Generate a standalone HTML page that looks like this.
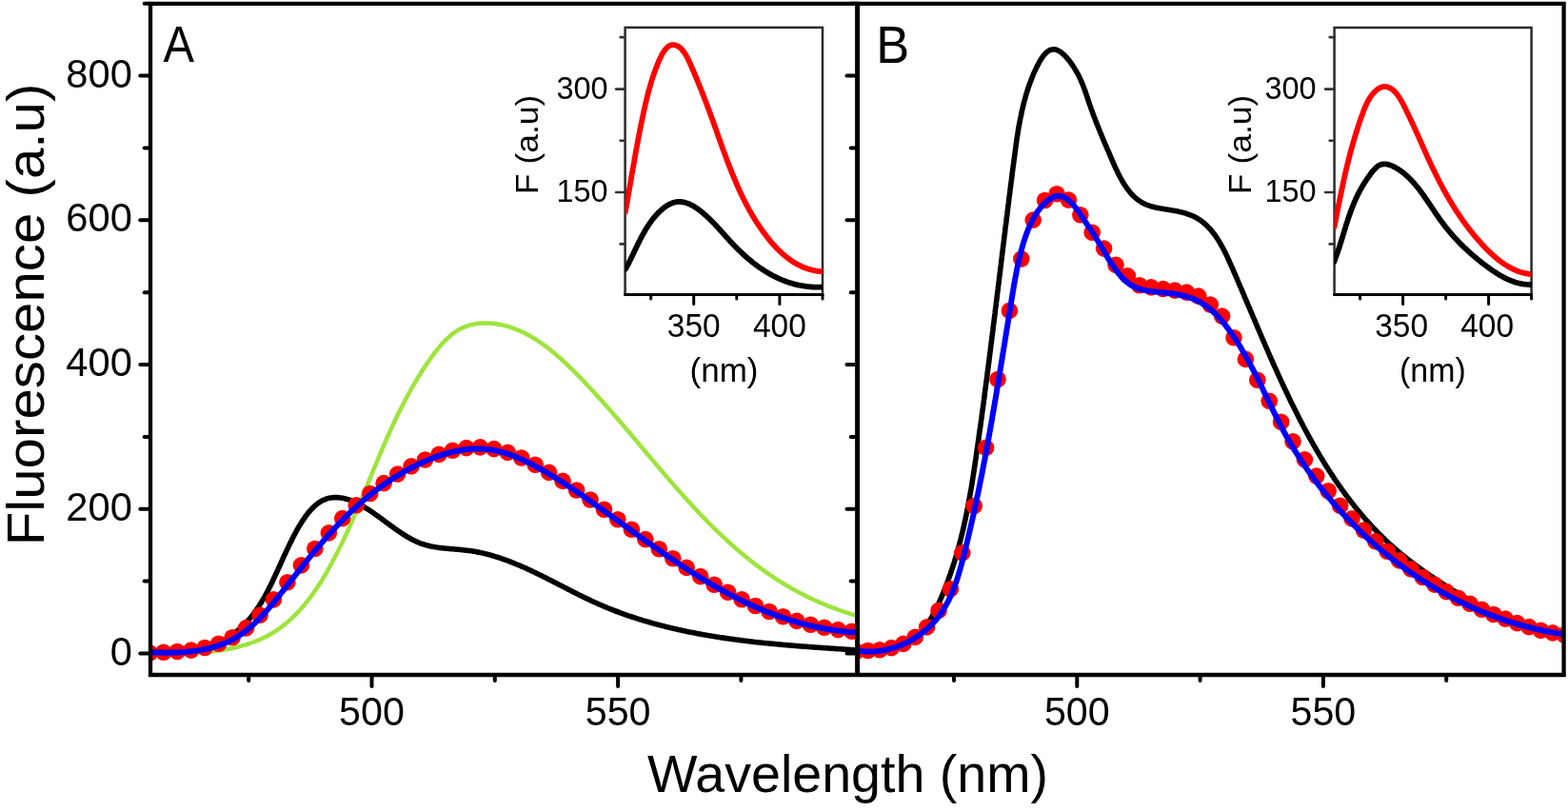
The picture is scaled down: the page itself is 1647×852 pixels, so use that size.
<!DOCTYPE html><html><head><meta charset="utf-8"><title>Fluorescence spectra</title><style>html,body{margin:0;padding:0;background:#fff;overflow:hidden}svg{display:block}</style></head><body>
<svg width="1647" height="852" viewBox="0 0 1647 852">
<defs><clipPath id="ca"><rect x="158.0" y="3.9" width="742.6" height="705.1"/></clipPath>
<clipPath id="cb"><rect x="900.6" y="3.9" width="742.0" height="705.1"/></clipPath></defs>
<g clip-path="url(#ca)" fill="none" stroke-linejoin="round" stroke-linecap="round">
<path d="M157.5 686.5 L159.0 686.2 L160.4 686.3 L161.8 686.4 L163.3 686.5 L164.7 686.5 L166.2 686.6 L167.6 686.7 L169.1 686.7 L170.6 686.8 L172.0 686.8 L173.5 686.8 L175.0 686.8 L176.5 686.8 L178.0 686.8 L179.5 686.8 L181.0 686.7 L182.5 686.7 L184.0 686.6 L185.6 686.5 L187.1 686.4 L188.6 686.3 L190.1 686.2 L191.6 686.0 L193.1 685.9 L194.7 685.7 L196.2 685.5 L197.7 685.3 L199.2 685.1 L200.7 684.8 L202.2 684.5 L203.7 684.3 L205.2 683.9 L206.7 683.6 L208.2 683.3 L209.7 682.9 L211.2 682.5 L212.7 682.1 L214.1 681.7 L215.6 681.2 L217.1 680.7 L218.5 680.2 L219.9 679.7 L221.4 679.2 L222.8 678.6 L224.2 678.0 L225.6 677.4 L227.0 676.7 L228.4 676.1 L229.8 675.4 L231.1 674.7 L232.5 674.0 L233.8 673.3 L235.1 672.5 L236.4 671.8 L237.7 671.0 L239.0 670.2 L240.3 669.4 L241.6 668.5 L242.8 667.7 L244.0 666.8 L245.2 666.0 L246.4 665.1 L247.6 664.1 L248.7 663.2 L249.9 662.3 L251.0 661.3 L252.1 660.4 L253.2 659.4 L254.2 658.4 L255.3 657.4 L256.3 656.4 L257.3 655.4 L258.3 654.3 L259.3 653.3 L260.3 652.2 L261.2 651.2 L262.2 650.1 L263.1 649.0 L264.0 647.9 L264.9 646.8 L265.8 645.6 L266.6 644.5 L267.5 643.3 L268.3 642.2 L269.1 641.0 L270.0 639.8 L270.8 638.7 L271.6 637.5 L272.3 636.3 L273.1 635.0 L273.9 633.8 L274.6 632.6 L275.4 631.3 L276.1 630.1 L276.8 628.8 L277.6 627.6 L278.3 626.3 L279.0 625.0 L279.7 623.7 L280.4 622.4 L281.1 621.1 L281.7 619.8 L282.4 618.5 L283.1 617.2 L283.7 615.9 L284.4 614.5 L285.1 613.2 L285.7 611.8 L286.4 610.5 L287.0 609.1 L287.6 607.7 L288.3 606.4 L288.9 605.0 L289.6 603.6 L290.2 602.2 L290.8 600.8 L291.5 599.5 L292.1 598.1 L292.7 596.7 L293.4 595.2 L294.0 593.8 L294.6 592.4 L295.3 591.0 L295.9 589.6 L296.6 588.2 L297.2 586.7 L297.9 585.3 L298.5 583.9 L299.2 582.4 L299.9 581.0 L300.5 579.6 L301.2 578.1 L301.9 576.7 L302.6 575.3 L303.2 573.8 L303.9 572.4 L304.6 570.9 L305.4 569.5 L306.1 568.0 L306.8 566.6 L307.5 565.1 L308.3 563.7 L309.0 562.2 L309.8 560.8 L310.6 559.4 L311.3 557.9 L312.1 556.5 L312.9 555.1 L313.7 553.7 L314.5 552.3 L315.4 550.9 L316.2 549.6 L317.1 548.2 L317.9 546.9 L318.8 545.6 L319.7 544.3 L320.5 543.0 L321.5 541.8 L322.4 540.6 L323.3 539.4 L324.2 538.3 L325.2 537.1 L326.1 536.0 L327.1 535.0 L328.1 533.9 L329.1 532.9 L330.1 532.0 L331.1 531.1 L332.2 530.2 L333.2 529.4 L334.3 528.6 L335.4 527.8 L336.5 527.1 L337.6 526.4 L338.7 525.8 L339.8 525.3 L341.0 524.8 L342.1 524.3 L343.3 523.9 L344.5 523.6 L345.7 523.3 L346.9 523.1 L348.2 522.9 L349.4 522.7 L350.6 522.6 L351.9 522.6 L353.2 522.6 L354.5 522.6 L355.7 522.7 L357.0 522.9 L358.3 523.1 L359.6 523.3 L360.9 523.5 L362.2 523.8 L363.5 524.2 L364.9 524.5 L366.2 524.9 L367.5 525.4 L368.8 525.9 L370.1 526.4 L371.4 526.9 L372.7 527.5 L374.0 528.1 L375.4 528.7 L376.7 529.4 L378.0 530.0 L379.3 530.7 L380.6 531.5 L381.9 532.2 L383.1 533.0 L384.4 533.8 L385.7 534.6 L387.0 535.4 L388.3 536.2 L389.6 537.1 L390.9 538.0 L392.2 538.9 L393.4 539.8 L394.7 540.7 L396.0 541.6 L397.3 542.5 L398.6 543.4 L399.9 544.4 L401.1 545.3 L402.4 546.3 L403.7 547.2 L405.0 548.2 L406.3 549.1 L407.6 550.1 L408.9 551.0 L410.1 552.0 L411.4 552.9 L412.7 553.8 L414.0 554.8 L415.3 555.7 L416.6 556.6 L417.9 557.5 L419.2 558.4 L420.5 559.3 L421.8 560.2 L423.1 561.0 L424.4 561.8 L425.7 562.7 L427.0 563.5 L428.4 564.3 L429.7 565.0 L431.0 565.8 L432.4 566.5 L433.7 567.2 L435.0 567.8 L436.4 568.5 L437.7 569.1 L439.1 569.7 L440.5 570.3 L441.8 570.8 L443.2 571.3 L444.6 571.7 L446.0 572.2 L447.4 572.6 L448.8 573.0 L450.2 573.3 L451.6 573.7 L453.0 574.0 L454.4 574.3 L455.9 574.5 L457.3 574.8 L458.7 575.0 L460.2 575.2 L461.6 575.4 L463.1 575.6 L464.5 575.8 L466.0 575.9 L467.4 576.1 L468.9 576.2 L470.3 576.3 L471.8 576.5 L473.2 576.6 L474.7 576.7 L476.2 576.8 L477.6 577.0 L479.1 577.1 L480.6 577.2 L482.0 577.3 L483.5 577.5 L485.0 577.6 L486.5 577.7 L487.9 577.9 L489.4 578.1 L490.9 578.2 L492.3 578.4 L493.8 578.6 L495.3 578.8 L496.7 579.1 L498.2 579.3 L499.7 579.6 L501.1 579.9 L502.6 580.1 L504.0 580.4 L505.5 580.8 L507.0 581.1 L508.4 581.4 L509.9 581.8 L511.3 582.1 L512.8 582.5 L514.2 582.9 L515.6 583.3 L517.1 583.7 L518.5 584.1 L520.0 584.6 L521.4 585.0 L522.8 585.5 L524.3 585.9 L525.7 586.4 L527.1 586.9 L528.5 587.4 L529.9 587.9 L531.3 588.4 L532.8 588.9 L534.2 589.4 L535.6 590.0 L537.0 590.5 L538.4 591.1 L539.8 591.6 L541.1 592.2 L542.5 592.8 L543.9 593.3 L545.3 593.9 L546.7 594.5 L548.1 595.1 L549.4 595.7 L550.8 596.3 L552.2 596.9 L553.5 597.5 L554.9 598.2 L556.3 598.8 L557.6 599.4 L559.0 600.1 L560.3 600.7 L561.7 601.3 L563.0 602.0 L564.4 602.7 L565.7 603.3 L567.1 604.0 L568.4 604.6 L569.8 605.3 L571.1 606.0 L572.5 606.6 L573.8 607.3 L575.1 608.0 L576.5 608.7 L577.8 609.4 L579.2 610.0 L580.5 610.7 L581.8 611.4 L583.2 612.1 L584.5 612.8 L585.8 613.5 L587.2 614.2 L588.5 614.8 L589.8 615.5 L591.2 616.2 L592.5 616.9 L593.8 617.6 L595.2 618.3 L596.5 619.0 L597.8 619.7 L599.2 620.3 L600.5 621.0 L601.8 621.7 L603.2 622.4 L604.5 623.0 L605.9 623.7 L607.2 624.4 L608.5 625.1 L609.9 625.7 L611.2 626.4 L612.6 627.0 L613.9 627.7 L615.3 628.4 L616.6 629.0 L617.9 629.6 L619.3 630.3 L620.7 630.9 L622.0 631.6 L623.4 632.2 L624.7 632.8 L626.1 633.4 L627.4 634.0 L628.8 634.6 L630.2 635.2 L631.5 635.8 L632.9 636.4 L634.3 637.0 L635.7 637.6 L637.0 638.1 L638.4 638.7 L639.8 639.3 L641.2 639.8 L642.6 640.4 L644.0 640.9 L645.3 641.5 L646.7 642.0 L648.1 642.5 L649.5 643.0 L650.9 643.6 L652.3 644.1 L653.7 644.6 L655.1 645.1 L656.5 645.6 L657.9 646.1 L659.3 646.6 L660.7 647.1 L662.2 647.5 L663.6 648.0 L665.0 648.5 L666.4 648.9 L667.8 649.4 L669.2 649.9 L670.7 650.3 L672.1 650.8 L673.5 651.2 L674.9 651.6 L676.4 652.1 L677.8 652.5 L679.2 652.9 L680.7 653.3 L682.1 653.7 L683.5 654.2 L685.0 654.6 L686.4 655.0 L687.8 655.4 L689.3 655.8 L690.7 656.1 L692.2 656.5 L693.6 656.9 L695.1 657.3 L696.5 657.6 L698.0 658.0 L699.4 658.4 L700.9 658.7 L702.3 659.1 L703.8 659.4 L705.2 659.8 L706.7 660.1 L708.1 660.5 L709.6 660.8 L711.1 661.1 L712.5 661.5 L714.0 661.8 L715.4 662.1 L716.9 662.4 L718.4 662.7 L719.8 663.0 L721.3 663.4 L722.8 663.7 L724.3 664.0 L725.7 664.2 L727.2 664.5 L728.7 664.8 L730.1 665.1 L731.6 665.4 L733.1 665.7 L734.6 665.9 L736.0 666.2 L737.5 666.5 L739.0 666.8 L740.5 667.0 L742.0 667.3 L743.4 667.5 L744.9 667.8 L746.4 668.0 L747.9 668.3 L749.4 668.5 L750.9 668.8 L752.4 669.0 L753.8 669.2 L755.3 669.5 L756.8 669.7 L758.3 669.9 L759.8 670.1 L761.3 670.4 L762.8 670.6 L764.3 670.8 L765.7 671.0 L767.2 671.2 L768.7 671.4 L770.2 671.6 L771.7 671.8 L773.2 672.0 L774.7 672.2 L776.2 672.4 L777.7 672.6 L779.2 672.8 L780.7 673.0 L782.2 673.2 L783.7 673.3 L785.2 673.5 L786.7 673.7 L788.2 673.9 L789.7 674.0 L791.2 674.2 L792.6 674.4 L794.1 674.6 L795.6 674.7 L797.1 674.9 L798.6 675.0 L800.1 675.2 L801.6 675.4 L803.1 675.5 L804.6 675.7 L806.1 675.8 L807.6 676.0 L809.1 676.1 L810.6 676.3 L812.1 676.4 L813.6 676.5 L815.1 676.7 L816.6 676.8 L818.1 677.0 L819.6 677.1 L821.1 677.2 L822.6 677.4 L824.1 677.5 L825.6 677.6 L827.1 677.8 L828.6 677.9 L830.1 678.0 L831.6 678.1 L833.1 678.3 L834.6 678.4 L836.0 678.5 L837.5 678.6 L839.0 678.7 L840.5 678.9 L842.0 679.0 L843.5 679.1 L845.0 679.2 L846.5 679.3 L848.0 679.4 L849.5 679.5 L851.0 679.7 L852.5 679.8 L853.9 679.9 L855.4 680.0 L856.9 680.1 L858.4 680.2 L859.9 680.3 L861.4 680.4 L862.9 680.5 L864.3 680.6 L865.8 680.7 L867.3 680.8 L868.8 680.9 L870.3 681.0 L871.8 681.1 L873.2 681.2 L874.7 681.3 L876.2 681.4 L877.7 681.5 L879.1 681.6 L880.6 681.7 L882.1 681.8 L883.6 681.9 L885.0 682.0 L886.5 682.1 L888.0 682.2 L889.5 682.3 L890.9 682.4 L892.4 682.5 L893.9 682.6 L895.3 682.7 L896.8 682.8 L898.2 682.9 L900.0 682.5" stroke="#000" stroke-width="5.6"/>
<path d="M157.5 686.5 L159.2 686.5 L160.6 686.5 L162.0 686.6 L163.4 686.6 L164.8 686.6 L166.2 686.7 L167.6 686.7 L169.0 686.7 L170.4 686.7 L171.8 686.7 L173.3 686.8 L174.7 686.8 L176.2 686.8 L177.7 686.8 L179.1 686.8 L180.6 686.8 L182.1 686.8 L183.6 686.8 L185.0 686.8 L186.5 686.7 L188.0 686.7 L189.5 686.7 L191.0 686.6 L192.6 686.6 L194.1 686.6 L195.6 686.5 L197.1 686.4 L198.6 686.4 L200.2 686.3 L201.7 686.2 L203.2 686.2 L204.8 686.1 L206.3 686.0 L207.8 685.9 L209.4 685.8 L210.9 685.6 L212.5 685.5 L214.0 685.4 L215.5 685.2 L217.1 685.1 L218.6 684.9 L220.2 684.8 L221.7 684.6 L223.3 684.4 L224.8 684.2 L226.3 684.0 L227.9 683.8 L229.4 683.6 L230.9 683.4 L232.5 683.1 L234.0 682.9 L235.5 682.6 L237.0 682.3 L238.5 682.1 L240.1 681.8 L241.6 681.5 L243.1 681.2 L244.6 680.8 L246.1 680.5 L247.6 680.1 L249.0 679.8 L250.5 679.4 L252.0 679.0 L253.5 678.6 L254.9 678.2 L256.4 677.8 L257.8 677.4 L259.3 676.9 L260.7 676.5 L262.2 676.0 L263.6 675.5 L265.0 675.0 L266.4 674.5 L267.8 673.9 L269.2 673.4 L270.6 672.8 L271.9 672.3 L273.3 671.7 L274.7 671.1 L276.0 670.5 L277.3 669.8 L278.7 669.2 L280.0 668.5 L281.3 667.8 L282.6 667.1 L283.8 666.4 L285.1 665.7 L286.4 664.9 L287.6 664.2 L288.8 663.4 L290.1 662.6 L291.3 661.8 L292.5 660.9 L293.7 660.1 L294.8 659.3 L296.0 658.4 L297.2 657.5 L298.3 656.6 L299.5 655.7 L300.6 654.8 L301.7 653.8 L302.8 652.9 L303.9 651.9 L305.0 650.9 L306.1 649.9 L307.1 648.9 L308.2 647.9 L309.2 646.9 L310.3 645.8 L311.3 644.8 L312.3 643.7 L313.3 642.7 L314.3 641.6 L315.3 640.5 L316.3 639.4 L317.3 638.3 L318.3 637.1 L319.2 636.0 L320.2 634.9 L321.1 633.7 L322.0 632.5 L323.0 631.4 L323.9 630.2 L324.8 629.0 L325.7 627.8 L326.6 626.6 L327.5 625.4 L328.4 624.2 L329.2 623.0 L330.1 621.7 L330.9 620.5 L331.8 619.2 L332.6 618.0 L333.5 616.7 L334.3 615.5 L335.1 614.2 L335.9 612.9 L336.8 611.6 L337.6 610.4 L338.4 609.1 L339.1 607.8 L339.9 606.5 L340.7 605.2 L341.5 603.9 L342.2 602.6 L343.0 601.2 L343.8 599.9 L344.5 598.6 L345.3 597.3 L346.0 596.0 L346.7 594.6 L347.5 593.3 L348.2 592.0 L348.9 590.7 L349.6 589.3 L350.3 588.0 L351.0 586.7 L351.7 585.3 L352.4 584.0 L353.1 582.6 L353.8 581.3 L354.5 580.0 L355.2 578.6 L355.9 577.3 L356.5 575.9 L357.2 574.6 L357.9 573.2 L358.5 571.9 L359.2 570.5 L359.8 569.2 L360.5 567.8 L361.1 566.5 L361.8 565.1 L362.4 563.8 L363.0 562.4 L363.7 561.1 L364.3 559.7 L364.9 558.3 L365.5 557.0 L366.2 555.6 L366.8 554.3 L367.4 552.9 L368.0 551.5 L368.6 550.2 L369.2 548.8 L369.8 547.4 L370.4 546.1 L371.0 544.7 L371.6 543.3 L372.2 542.0 L372.8 540.6 L373.4 539.2 L374.0 537.9 L374.6 536.5 L375.1 535.1 L375.7 533.7 L376.3 532.4 L376.9 531.0 L377.5 529.6 L378.0 528.2 L378.6 526.9 L379.2 525.5 L379.8 524.1 L380.3 522.7 L380.9 521.4 L381.5 520.0 L382.1 518.6 L382.6 517.2 L383.2 515.9 L383.8 514.5 L384.3 513.1 L384.9 511.7 L385.5 510.4 L386.0 509.0 L386.6 507.6 L387.2 506.2 L387.7 504.8 L388.3 503.5 L388.8 502.1 L389.4 500.7 L390.0 499.3 L390.5 498.0 L391.1 496.6 L391.7 495.2 L392.2 493.8 L392.8 492.4 L393.4 491.1 L393.9 489.7 L394.5 488.3 L395.1 486.9 L395.7 485.6 L396.2 484.2 L396.8 482.8 L397.4 481.4 L398.0 480.1 L398.5 478.7 L399.1 477.3 L399.7 475.9 L400.3 474.6 L400.9 473.2 L401.4 471.8 L402.0 470.4 L402.6 469.1 L403.2 467.7 L403.8 466.3 L404.4 465.0 L405.0 463.6 L405.6 462.2 L406.2 460.8 L406.8 459.5 L407.4 458.1 L408.0 456.7 L408.6 455.4 L409.2 454.0 L409.8 452.7 L410.5 451.3 L411.1 449.9 L411.7 448.6 L412.3 447.2 L413.0 445.8 L413.6 444.5 L414.2 443.1 L414.9 441.8 L415.5 440.4 L416.2 439.1 L416.8 437.7 L417.5 436.4 L418.1 435.0 L418.8 433.6 L419.5 432.3 L420.2 430.9 L420.8 429.6 L421.5 428.3 L422.2 426.9 L422.9 425.6 L423.6 424.2 L424.3 422.9 L425.0 421.5 L425.7 420.2 L426.4 418.9 L427.1 417.5 L427.8 416.2 L428.5 414.9 L429.3 413.5 L430.0 412.2 L430.7 410.9 L431.5 409.5 L432.2 408.2 L433.0 406.9 L433.8 405.6 L434.5 404.2 L435.3 402.9 L436.1 401.6 L436.9 400.3 L437.6 399.0 L438.4 397.7 L439.2 396.3 L440.0 395.0 L440.9 393.7 L441.7 392.4 L442.5 391.1 L443.3 389.8 L444.2 388.5 L445.0 387.2 L445.9 385.9 L446.7 384.6 L447.6 383.3 L448.5 382.0 L449.3 380.7 L450.2 379.5 L451.1 378.2 L452.0 376.9 L452.9 375.6 L453.8 374.3 L454.8 373.1 L455.7 371.8 L456.6 370.6 L457.6 369.3 L458.5 368.1 L459.5 366.9 L460.5 365.7 L461.5 364.5 L462.5 363.3 L463.5 362.1 L464.5 361.0 L465.5 359.9 L466.6 358.8 L467.6 357.7 L468.7 356.6 L469.8 355.6 L470.9 354.6 L472.0 353.6 L473.1 352.6 L474.2 351.7 L475.3 350.8 L476.5 349.9 L477.7 349.1 L478.9 348.3 L480.0 347.5 L481.3 346.7 L482.5 346.0 L483.7 345.4 L485.0 344.7 L486.3 344.1 L487.6 343.6 L488.9 343.1 L490.2 342.6 L491.5 342.1 L492.9 341.7 L494.2 341.4 L495.6 341.0 L497.0 340.7 L498.4 340.5 L499.8 340.2 L501.2 340.0 L502.6 339.8 L504.0 339.7 L505.4 339.6 L506.8 339.5 L508.3 339.5 L509.7 339.5 L511.1 339.5 L512.5 339.5 L514.0 339.6 L515.4 339.7 L516.8 339.8 L518.3 339.9 L519.7 340.1 L521.1 340.3 L522.5 340.5 L523.9 340.7 L525.3 341.0 L526.7 341.3 L528.1 341.6 L529.5 341.9 L530.9 342.3 L532.2 342.6 L533.6 343.0 L535.0 343.4 L536.3 343.9 L537.7 344.3 L539.0 344.8 L540.3 345.3 L541.7 345.8 L543.0 346.3 L544.3 346.8 L545.6 347.4 L546.9 348.0 L548.2 348.6 L549.5 349.2 L550.8 349.8 L552.1 350.5 L553.4 351.2 L554.6 351.8 L555.9 352.5 L557.2 353.2 L558.4 354.0 L559.7 354.7 L560.9 355.5 L562.2 356.3 L563.4 357.0 L564.6 357.8 L565.9 358.7 L567.1 359.5 L568.3 360.3 L569.5 361.2 L570.7 362.0 L571.9 362.9 L573.1 363.8 L574.3 364.7 L575.5 365.6 L576.7 366.5 L577.9 367.5 L579.0 368.4 L580.2 369.4 L581.4 370.3 L582.6 371.3 L583.7 372.3 L584.9 373.3 L586.0 374.3 L587.2 375.3 L588.3 376.3 L589.5 377.3 L590.6 378.4 L591.7 379.4 L592.9 380.4 L594.0 381.5 L595.1 382.5 L596.2 383.6 L597.3 384.7 L598.5 385.8 L599.6 386.8 L600.7 387.9 L601.8 389.0 L602.9 390.1 L604.0 391.2 L605.1 392.3 L606.1 393.4 L607.2 394.5 L608.3 395.6 L609.4 396.7 L610.5 397.8 L611.5 399.0 L612.6 400.1 L613.7 401.2 L614.8 402.3 L615.8 403.4 L616.9 404.6 L617.9 405.7 L619.0 406.8 L620.1 407.9 L621.1 409.1 L622.2 410.2 L623.2 411.3 L624.2 412.5 L625.3 413.6 L626.3 414.7 L627.4 415.9 L628.4 417.0 L629.4 418.2 L630.5 419.3 L631.5 420.4 L632.5 421.6 L633.5 422.7 L634.6 423.9 L635.6 425.0 L636.6 426.2 L637.6 427.3 L638.6 428.5 L639.7 429.6 L640.7 430.8 L641.7 431.9 L642.7 433.1 L643.7 434.2 L644.7 435.4 L645.7 436.5 L646.7 437.7 L647.7 438.8 L648.7 440.0 L649.7 441.2 L650.7 442.3 L651.7 443.5 L652.7 444.6 L653.7 445.8 L654.7 446.9 L655.7 448.1 L656.6 449.3 L657.6 450.4 L658.6 451.6 L659.6 452.7 L660.6 453.9 L661.6 455.1 L662.6 456.2 L663.5 457.4 L664.5 458.5 L665.5 459.7 L666.5 460.9 L667.5 462.0 L668.4 463.2 L669.4 464.3 L670.4 465.5 L671.4 466.7 L672.3 467.8 L673.3 469.0 L674.3 470.1 L675.3 471.3 L676.2 472.4 L677.2 473.6 L678.2 474.8 L679.1 475.9 L680.1 477.1 L681.1 478.2 L682.1 479.4 L683.0 480.5 L684.0 481.7 L685.0 482.8 L685.9 484.0 L686.9 485.1 L687.9 486.3 L688.9 487.4 L689.8 488.6 L690.8 489.7 L691.8 490.9 L692.7 492.0 L693.7 493.2 L694.7 494.3 L695.7 495.5 L696.6 496.6 L697.6 497.7 L698.6 498.9 L699.6 500.0 L700.5 501.1 L701.5 502.3 L702.5 503.4 L703.5 504.5 L704.4 505.7 L705.4 506.8 L706.4 507.9 L707.4 509.1 L708.3 510.2 L709.3 511.3 L710.3 512.4 L711.3 513.5 L712.3 514.7 L713.3 515.8 L714.2 516.9 L715.2 518.0 L716.2 519.1 L717.2 520.2 L718.2 521.3 L719.2 522.4 L720.2 523.5 L721.2 524.6 L722.2 525.7 L723.2 526.8 L724.2 527.9 L725.2 529.0 L726.2 530.1 L727.2 531.2 L728.2 532.3 L729.2 533.4 L730.2 534.5 L731.2 535.5 L732.2 536.6 L733.2 537.7 L734.2 538.8 L735.2 539.8 L736.3 540.9 L737.3 542.0 L738.3 543.0 L739.3 544.1 L740.3 545.2 L741.4 546.2 L742.4 547.3 L743.4 548.3 L744.5 549.4 L745.5 550.4 L746.5 551.5 L747.6 552.5 L748.6 553.5 L749.7 554.6 L750.7 555.6 L751.8 556.6 L752.8 557.6 L753.9 558.7 L754.9 559.7 L756.0 560.7 L757.0 561.7 L758.1 562.7 L759.2 563.7 L760.2 564.7 L761.3 565.7 L762.4 566.7 L763.5 567.7 L764.5 568.7 L765.6 569.7 L766.7 570.7 L767.8 571.6 L768.9 572.6 L770.0 573.6 L771.1 574.6 L772.2 575.5 L773.3 576.5 L774.4 577.4 L775.5 578.4 L776.6 579.3 L777.7 580.3 L778.9 581.2 L780.0 582.2 L781.1 583.1 L782.2 584.0 L783.4 585.0 L784.5 585.9 L785.7 586.8 L786.8 587.7 L788.0 588.6 L789.1 589.5 L790.3 590.4 L791.4 591.3 L792.6 592.2 L793.7 593.1 L794.9 594.0 L796.1 594.9 L797.3 595.8 L798.5 596.6 L799.6 597.5 L800.8 598.4 L802.0 599.2 L803.2 600.1 L804.4 600.9 L805.6 601.8 L806.8 602.6 L808.1 603.5 L809.3 604.3 L810.5 605.1 L811.7 605.9 L813.0 606.7 L814.2 607.6 L815.4 608.4 L816.7 609.2 L817.9 610.0 L819.2 610.8 L820.5 611.6 L821.7 612.3 L823.0 613.1 L824.3 613.9 L825.5 614.7 L826.8 615.4 L828.1 616.2 L829.4 616.9 L830.7 617.7 L832.0 618.4 L833.3 619.1 L834.6 619.9 L835.9 620.6 L837.3 621.3 L838.6 622.0 L839.9 622.7 L841.3 623.4 L842.6 624.1 L844.0 624.8 L845.3 625.5 L846.7 626.2 L848.0 626.9 L849.4 627.6 L850.8 628.2 L852.2 628.9 L853.6 629.5 L855.0 630.2 L856.4 630.8 L857.8 631.4 L859.2 632.1 L860.6 632.7 L862.0 633.3 L863.4 633.9 L864.9 634.5 L866.3 635.1 L867.7 635.7 L869.2 636.3 L870.6 636.9 L872.1 637.5 L873.6 638.0 L875.1 638.6 L876.5 639.1 L878.0 639.7 L879.5 640.2 L881.0 640.8 L882.5 641.3 L884.0 641.8 L885.5 642.3 L887.1 642.8 L888.6 643.3 L890.1 643.8 L891.7 644.3 L893.2 644.8 L894.8 645.3 L896.4 645.8 L897.9 646.2 L899.5 646.7 L900.0 645.5" stroke="#9ee43c" stroke-width="4.5"/>
<g fill="#f00" stroke="none"><circle cx="157.3" cy="686.0" r="8.8"/><circle cx="171.8" cy="685.2" r="8.8"/><circle cx="186.2" cy="684.5" r="8.8"/><circle cx="200.7" cy="683.1" r="8.8"/><circle cx="215.1" cy="680.5" r="8.8"/><circle cx="229.6" cy="676.3" r="8.8"/><circle cx="244.1" cy="669.8" r="8.8"/><circle cx="258.5" cy="659.9" r="8.8"/><circle cx="273.0" cy="646.3" r="8.8"/><circle cx="287.4" cy="629.9" r="8.8"/><circle cx="301.9" cy="611.8" r="8.8"/><circle cx="316.4" cy="593.9" r="8.8"/><circle cx="330.8" cy="576.5" r="8.8"/><circle cx="345.3" cy="559.9" r="8.8"/><circle cx="359.7" cy="544.6" r="8.8"/><circle cx="374.2" cy="530.8" r="8.8"/><circle cx="388.7" cy="518.5" r="8.8"/><circle cx="403.1" cy="507.6" r="8.8"/><circle cx="417.6" cy="498.1" r="8.8"/><circle cx="432.0" cy="489.9" r="8.8"/><circle cx="446.5" cy="483.0" r="8.8"/><circle cx="461.0" cy="477.4" r="8.8"/><circle cx="475.4" cy="473.2" r="8.8"/><circle cx="489.9" cy="470.6" r="8.8"/><circle cx="504.3" cy="469.9" r="8.8"/><circle cx="518.8" cy="471.6" r="8.8"/><circle cx="533.3" cy="475.4" r="8.8"/><circle cx="547.7" cy="481.0" r="8.8"/><circle cx="562.2" cy="488.2" r="8.8"/><circle cx="576.6" cy="496.4" r="8.8"/><circle cx="591.1" cy="505.4" r="8.8"/><circle cx="605.6" cy="515.0" r="8.8"/><circle cx="620.0" cy="525.0" r="8.8"/><circle cx="634.5" cy="535.3" r="8.8"/><circle cx="648.9" cy="545.7" r="8.8"/><circle cx="663.4" cy="556.2" r="8.8"/><circle cx="677.9" cy="566.6" r="8.8"/><circle cx="692.3" cy="576.8" r="8.8"/><circle cx="706.8" cy="586.8" r="8.8"/><circle cx="721.2" cy="596.4" r="8.8"/><circle cx="735.7" cy="605.6" r="8.8"/><circle cx="750.2" cy="614.2" r="8.8"/><circle cx="764.6" cy="622.3" r="8.8"/><circle cx="779.1" cy="629.7" r="8.8"/><circle cx="793.5" cy="636.5" r="8.8"/><circle cx="808.0" cy="642.5" r="8.8"/><circle cx="822.5" cy="647.8" r="8.8"/><circle cx="836.9" cy="652.4" r="8.8"/><circle cx="851.4" cy="656.2" r="8.8"/><circle cx="865.8" cy="659.3" r="8.8"/><circle cx="880.3" cy="661.6" r="8.8"/><circle cx="894.8" cy="663.2" r="8.8"/><circle cx="909.2" cy="663.8" r="8.8"/></g>
<path d="M157.5 686.0 L158.6 685.3 L160.1 685.3 L161.6 685.4 L163.1 685.5 L164.6 685.5 L166.1 685.6 L167.6 685.6 L169.2 685.6 L170.7 685.6 L172.2 685.7 L173.7 685.7 L175.3 685.7 L176.8 685.7 L178.4 685.6 L179.9 685.6 L181.4 685.6 L183.0 685.5 L184.5 685.5 L186.1 685.4 L187.6 685.4 L189.1 685.3 L190.7 685.2 L192.2 685.1 L193.8 685.0 L195.3 684.8 L196.8 684.7 L198.4 684.5 L199.9 684.4 L201.4 684.2 L203.0 684.0 L204.5 683.8 L206.0 683.6 L207.5 683.4 L209.0 683.1 L210.5 682.9 L212.0 682.6 L213.5 682.3 L215.0 682.0 L216.5 681.7 L218.0 681.4 L219.4 681.0 L220.9 680.7 L222.3 680.3 L223.8 679.9 L225.2 679.5 L226.7 679.0 L228.1 678.6 L229.5 678.1 L230.9 677.6 L232.3 677.1 L233.7 676.6 L235.0 676.1 L236.4 675.5 L237.8 675.0 L239.1 674.4 L240.4 673.8 L241.7 673.1 L243.1 672.5 L244.3 671.8 L245.6 671.1 L246.9 670.4 L248.2 669.6 L249.4 668.9 L250.6 668.1 L251.8 667.3 L253.0 666.5 L254.2 665.7 L255.4 664.8 L256.6 664.0 L257.8 663.1 L258.9 662.2 L260.1 661.3 L261.2 660.3 L262.3 659.4 L263.4 658.4 L264.5 657.5 L265.6 656.5 L266.7 655.5 L267.8 654.5 L268.9 653.4 L269.9 652.4 L271.0 651.4 L272.0 650.3 L273.1 649.2 L274.1 648.2 L275.1 647.1 L276.1 646.0 L277.2 644.9 L278.2 643.8 L279.2 642.6 L280.2 641.5 L281.2 640.4 L282.1 639.2 L283.1 638.1 L284.1 636.9 L285.1 635.8 L286.0 634.6 L287.0 633.4 L288.0 632.3 L288.9 631.1 L289.9 629.9 L290.8 628.7 L291.8 627.6 L292.7 626.4 L293.7 625.2 L294.6 624.0 L295.5 622.8 L296.5 621.6 L297.4 620.4 L298.4 619.3 L299.3 618.1 L300.2 616.9 L301.2 615.7 L302.1 614.5 L303.0 613.3 L304.0 612.2 L304.9 611.0 L305.8 609.8 L306.8 608.6 L307.7 607.4 L308.6 606.3 L309.5 605.1 L310.5 603.9 L311.4 602.7 L312.3 601.6 L313.3 600.4 L314.2 599.2 L315.1 598.1 L316.0 596.9 L317.0 595.7 L317.9 594.6 L318.8 593.4 L319.8 592.2 L320.7 591.1 L321.6 589.9 L322.6 588.8 L323.5 587.6 L324.4 586.4 L325.4 585.3 L326.3 584.1 L327.3 583.0 L328.2 581.9 L329.2 580.7 L330.1 579.6 L331.0 578.4 L332.0 577.3 L332.9 576.2 L333.9 575.0 L334.8 573.9 L335.8 572.8 L336.8 571.6 L337.7 570.5 L338.7 569.4 L339.7 568.3 L340.6 567.2 L341.6 566.1 L342.6 564.9 L343.5 563.8 L344.5 562.7 L345.5 561.6 L346.5 560.5 L347.5 559.4 L348.5 558.3 L349.5 557.3 L350.5 556.2 L351.5 555.1 L352.5 554.0 L353.5 552.9 L354.5 551.9 L355.5 550.8 L356.5 549.7 L357.5 548.7 L358.6 547.6 L359.6 546.5 L360.6 545.5 L361.7 544.4 L362.7 543.4 L363.7 542.4 L364.8 541.3 L365.9 540.3 L366.9 539.3 L368.0 538.2 L369.0 537.2 L370.1 536.2 L371.2 535.2 L372.3 534.2 L373.4 533.2 L374.5 532.2 L375.6 531.2 L376.7 530.2 L377.8 529.2 L378.9 528.2 L380.0 527.2 L381.1 526.2 L382.3 525.3 L383.4 524.3 L384.6 523.4 L385.7 522.4 L386.9 521.4 L388.0 520.5 L389.2 519.6 L390.4 518.6 L391.6 517.7 L392.7 516.8 L393.9 515.8 L395.1 514.9 L396.3 514.0 L397.6 513.1 L398.8 512.2 L400.0 511.3 L401.2 510.4 L402.5 509.5 L403.7 508.7 L405.0 507.8 L406.2 506.9 L407.5 506.1 L408.8 505.2 L410.1 504.4 L411.4 503.5 L412.7 502.7 L414.0 501.8 L415.3 501.0 L416.6 500.2 L417.9 499.4 L419.2 498.6 L420.6 497.8 L421.9 497.0 L423.3 496.2 L424.6 495.5 L426.0 494.7 L427.3 494.0 L428.7 493.2 L430.1 492.5 L431.4 491.7 L432.8 491.0 L434.2 490.3 L435.6 489.6 L437.0 488.9 L438.4 488.3 L439.8 487.6 L441.2 486.9 L442.6 486.3 L444.0 485.6 L445.4 485.0 L446.8 484.4 L448.2 483.8 L449.7 483.2 L451.1 482.6 L452.5 482.0 L453.9 481.5 L455.4 480.9 L456.8 480.4 L458.2 479.9 L459.7 479.4 L461.1 478.9 L462.5 478.4 L464.0 477.9 L465.4 477.5 L466.9 477.0 L468.3 476.6 L469.8 476.2 L471.2 475.8 L472.6 475.4 L474.1 475.0 L475.5 474.7 L477.0 474.3 L478.4 474.0 L479.9 473.7 L481.3 473.4 L482.8 473.2 L484.2 472.9 L485.7 472.7 L487.1 472.5 L488.5 472.3 L490.0 472.1 L491.4 471.9 L492.9 471.8 L494.3 471.7 L495.7 471.6 L497.2 471.5 L498.6 471.4 L500.0 471.4 L501.5 471.4 L502.9 471.4 L504.3 471.4 L505.7 471.5 L507.1 471.6 L508.5 471.7 L510.0 471.8 L511.4 471.9 L512.8 472.1 L514.2 472.3 L515.6 472.5 L517.0 472.7 L518.4 473.0 L519.7 473.2 L521.1 473.5 L522.5 473.8 L523.9 474.2 L525.3 474.5 L526.7 474.9 L528.0 475.3 L529.4 475.7 L530.8 476.1 L532.1 476.5 L533.5 476.9 L534.9 477.4 L536.2 477.9 L537.6 478.4 L538.9 478.9 L540.3 479.4 L541.6 479.9 L543.0 480.5 L544.3 481.1 L545.7 481.6 L547.0 482.2 L548.3 482.8 L549.7 483.4 L551.0 484.1 L552.3 484.7 L553.7 485.3 L555.0 486.0 L556.3 486.7 L557.7 487.3 L559.0 488.0 L560.3 488.7 L561.6 489.4 L562.9 490.1 L564.2 490.8 L565.5 491.5 L566.9 492.3 L568.2 493.0 L569.5 493.7 L570.8 494.5 L572.1 495.2 L573.4 496.0 L574.7 496.7 L576.0 497.5 L577.3 498.3 L578.6 499.1 L579.8 499.8 L581.1 500.6 L582.4 501.4 L583.7 502.2 L585.0 503.0 L586.3 503.8 L587.5 504.6 L588.8 505.4 L590.1 506.3 L591.4 507.1 L592.7 507.9 L593.9 508.7 L595.2 509.6 L596.5 510.4 L597.7 511.2 L599.0 512.1 L600.3 512.9 L601.5 513.8 L602.8 514.6 L604.1 515.5 L605.3 516.3 L606.6 517.2 L607.8 518.0 L609.1 518.9 L610.4 519.8 L611.6 520.6 L612.9 521.5 L614.1 522.4 L615.4 523.2 L616.6 524.1 L617.9 525.0 L619.1 525.9 L620.4 526.7 L621.6 527.6 L622.9 528.5 L624.1 529.4 L625.3 530.2 L626.6 531.1 L627.8 532.0 L629.1 532.9 L630.3 533.8 L631.5 534.6 L632.8 535.5 L634.0 536.4 L635.3 537.3 L636.5 538.2 L637.7 539.1 L639.0 540.0 L640.2 540.8 L641.4 541.7 L642.7 542.6 L643.9 543.5 L645.1 544.4 L646.4 545.3 L647.6 546.2 L648.8 547.1 L650.1 547.9 L651.3 548.8 L652.5 549.7 L653.8 550.6 L655.0 551.5 L656.2 552.4 L657.4 553.3 L658.7 554.2 L659.9 555.0 L661.1 555.9 L662.4 556.8 L663.6 557.7 L664.8 558.6 L666.0 559.5 L667.3 560.3 L668.5 561.2 L669.7 562.1 L671.0 563.0 L672.2 563.9 L673.4 564.8 L674.6 565.6 L675.9 566.5 L677.1 567.4 L678.3 568.3 L679.5 569.1 L680.8 570.0 L682.0 570.9 L683.2 571.8 L684.5 572.6 L685.7 573.5 L686.9 574.4 L688.2 575.2 L689.4 576.1 L690.6 577.0 L691.9 577.8 L693.1 578.7 L694.3 579.5 L695.5 580.4 L696.8 581.2 L698.0 582.1 L699.3 583.0 L700.5 583.8 L701.7 584.7 L703.0 585.5 L704.2 586.3 L705.4 587.2 L706.7 588.0 L707.9 588.9 L709.2 589.7 L710.4 590.5 L711.6 591.4 L712.9 592.2 L714.1 593.0 L715.4 593.8 L716.6 594.7 L717.9 595.5 L719.1 596.3 L720.4 597.1 L721.6 597.9 L722.9 598.7 L724.1 599.5 L725.4 600.4 L726.6 601.2 L727.9 602.0 L729.1 602.7 L730.4 603.5 L731.7 604.3 L732.9 605.1 L734.2 605.9 L735.4 606.7 L736.7 607.5 L738.0 608.2 L739.2 609.0 L740.5 609.8 L741.8 610.5 L743.1 611.3 L744.3 612.1 L745.6 612.8 L746.9 613.6 L748.2 614.3 L749.4 615.1 L750.7 615.8 L752.0 616.5 L753.3 617.3 L754.6 618.0 L755.9 618.7 L757.1 619.4 L758.4 620.2 L759.7 620.9 L761.0 621.6 L762.3 622.3 L763.6 623.0 L764.9 623.7 L766.2 624.4 L767.5 625.1 L768.8 625.8 L770.1 626.4 L771.5 627.1 L772.8 627.8 L774.1 628.4 L775.4 629.1 L776.7 629.8 L778.0 630.4 L779.4 631.1 L780.7 631.7 L782.0 632.4 L783.3 633.0 L784.7 633.6 L786.0 634.2 L787.3 634.9 L788.7 635.5 L790.0 636.1 L791.4 636.7 L792.7 637.3 L794.1 637.9 L795.4 638.5 L796.8 639.1 L798.1 639.7 L799.5 640.2 L800.8 640.8 L802.2 641.4 L803.6 641.9 L804.9 642.5 L806.3 643.0 L807.7 643.6 L809.1 644.1 L810.4 644.6 L811.8 645.2 L813.2 645.7 L814.6 646.2 L816.0 646.7 L817.4 647.2 L818.8 647.7 L820.2 648.2 L821.6 648.7 L823.0 649.2 L824.4 649.6 L825.8 650.1 L827.2 650.6 L828.6 651.0 L830.1 651.5 L831.5 651.9 L832.9 652.3 L834.3 652.8 L835.8 653.2 L837.2 653.6 L838.6 654.0 L840.1 654.4 L841.5 654.8 L843.0 655.2 L844.4 655.6 L845.9 655.9 L847.4 656.3 L848.8 656.7 L850.3 657.0 L851.8 657.4 L853.2 657.7 L854.7 658.1 L856.2 658.4 L857.7 658.7 L859.2 659.0 L860.6 659.3 L862.1 659.6 L863.6 659.9 L865.1 660.2 L866.6 660.5 L868.2 660.7 L869.7 661.0 L871.2 661.3 L872.7 661.5 L874.2 661.7 L875.8 662.0 L877.3 662.2 L878.8 662.4 L880.4 662.6 L881.9 662.8 L883.5 663.0 L885.0 663.2 L886.6 663.4 L888.1 663.5 L889.7 663.7 L891.3 663.9 L892.8 664.0 L894.4 664.1 L896.0 664.3 L897.6 664.4 L899.2 664.5 L900.0 664.8" stroke="#00f" stroke-width="6"/>
</g>
<g clip-path="url(#cb)" fill="none" stroke-linejoin="round" stroke-linecap="round">
<path d="M900.6 684.0 L901.5 684.0 L903.4 684.1 L905.3 684.3 L907.1 684.4 L908.9 684.5 L910.7 684.5 L912.5 684.6 L914.3 684.6 L916.0 684.6 L917.7 684.6 L919.4 684.5 L921.0 684.5 L922.6 684.4 L924.2 684.2 L925.8 684.1 L927.4 683.9 L928.9 683.7 L930.4 683.5 L931.9 683.3 L933.4 683.0 L934.8 682.7 L936.2 682.4 L937.6 682.1 L939.0 681.7 L940.4 681.3 L941.7 680.9 L943.0 680.4 L944.3 680.0 L945.6 679.5 L946.9 679.0 L948.1 678.4 L949.3 677.9 L950.5 677.3 L951.7 676.7 L952.9 676.0 L954.0 675.4 L955.1 674.7 L956.2 674.0 L957.3 673.2 L958.4 672.4 L959.5 671.6 L960.5 670.8 L961.5 670.0 L962.5 669.1 L963.5 668.2 L964.5 667.3 L965.4 666.3 L966.4 665.3 L967.3 664.3 L968.2 663.3 L969.1 662.2 L970.0 661.2 L970.9 660.1 L971.8 658.9 L972.6 657.8 L973.4 656.6 L974.3 655.4 L975.1 654.2 L975.9 653.0 L976.6 651.7 L977.4 650.4 L978.2 649.2 L978.9 647.9 L979.7 646.5 L980.4 645.2 L981.1 643.9 L981.8 642.5 L982.5 641.2 L983.2 639.8 L983.9 638.4 L984.5 637.0 L985.2 635.6 L985.8 634.2 L986.5 632.8 L987.1 631.4 L987.7 629.9 L988.4 628.5 L989.0 627.1 L989.6 625.7 L990.2 624.2 L990.8 622.8 L991.4 621.4 L991.9 619.9 L992.5 618.5 L993.1 617.1 L993.6 615.6 L994.2 614.2 L994.7 612.8 L995.3 611.3 L995.8 609.9 L996.3 608.4 L996.8 607.0 L997.3 605.6 L997.9 604.1 L998.4 602.7 L998.8 601.2 L999.3 599.8 L999.8 598.4 L1000.3 596.9 L1000.8 595.5 L1001.2 594.0 L1001.7 592.6 L1002.2 591.1 L1002.6 589.7 L1003.1 588.2 L1003.5 586.8 L1003.9 585.3 L1004.4 583.9 L1004.8 582.4 L1005.2 581.0 L1005.6 579.5 L1006.0 578.0 L1006.4 576.6 L1006.8 575.1 L1007.2 573.7 L1007.6 572.2 L1008.0 570.8 L1008.4 569.3 L1008.7 567.8 L1009.1 566.4 L1009.5 564.9 L1009.8 563.5 L1010.2 562.0 L1010.6 560.5 L1010.9 559.1 L1011.3 557.6 L1011.6 556.1 L1011.9 554.7 L1012.3 553.2 L1012.6 551.7 L1012.9 550.3 L1013.2 548.8 L1013.6 547.3 L1013.9 545.9 L1014.2 544.4 L1014.5 542.9 L1014.8 541.5 L1015.1 540.0 L1015.4 538.5 L1015.7 537.1 L1016.0 535.6 L1016.3 534.1 L1016.6 532.7 L1016.8 531.2 L1017.1 529.7 L1017.4 528.2 L1017.7 526.8 L1017.9 525.3 L1018.2 523.8 L1018.5 522.3 L1018.7 520.9 L1019.0 519.4 L1019.3 517.9 L1019.5 516.5 L1019.8 515.0 L1020.0 513.5 L1020.3 512.0 L1020.5 510.6 L1020.8 509.1 L1021.0 507.6 L1021.2 506.1 L1021.5 504.6 L1021.7 503.2 L1021.9 501.7 L1022.2 500.2 L1022.4 498.7 L1022.6 497.3 L1022.9 495.8 L1023.1 494.3 L1023.3 492.8 L1023.5 491.3 L1023.8 489.9 L1024.0 488.4 L1024.2 486.9 L1024.4 485.4 L1024.6 484.0 L1024.9 482.5 L1025.1 481.0 L1025.3 479.5 L1025.5 478.0 L1025.7 476.6 L1025.9 475.1 L1026.1 473.6 L1026.3 472.1 L1026.6 470.6 L1026.8 469.2 L1027.0 467.7 L1027.2 466.2 L1027.4 464.7 L1027.6 463.3 L1027.8 461.8 L1028.0 460.3 L1028.2 458.8 L1028.4 457.3 L1028.6 455.9 L1028.8 454.4 L1029.0 452.9 L1029.3 451.4 L1029.5 449.9 L1029.7 448.5 L1029.9 447.0 L1030.1 445.5 L1030.3 444.0 L1030.5 442.5 L1030.7 441.1 L1030.9 439.6 L1031.1 438.1 L1031.3 436.6 L1031.5 435.2 L1031.7 433.7 L1031.9 432.2 L1032.1 430.7 L1032.3 429.2 L1032.5 427.8 L1032.7 426.3 L1032.9 424.8 L1033.1 423.3 L1033.3 421.8 L1033.5 420.4 L1033.7 418.9 L1033.9 417.4 L1034.1 415.9 L1034.2 414.4 L1034.4 413.0 L1034.6 411.5 L1034.8 410.0 L1035.0 408.5 L1035.2 407.0 L1035.4 405.6 L1035.6 404.1 L1035.8 402.6 L1036.0 401.1 L1036.2 399.6 L1036.4 398.2 L1036.6 396.7 L1036.8 395.2 L1037.0 393.7 L1037.1 392.2 L1037.3 390.8 L1037.5 389.3 L1037.7 387.8 L1037.9 386.3 L1038.1 384.8 L1038.3 383.4 L1038.5 381.9 L1038.7 380.4 L1038.9 378.9 L1039.0 377.4 L1039.2 376.0 L1039.4 374.5 L1039.6 373.0 L1039.8 371.5 L1040.0 370.0 L1040.2 368.5 L1040.4 367.1 L1040.5 365.6 L1040.7 364.1 L1040.9 362.6 L1041.1 361.1 L1041.3 359.7 L1041.5 358.2 L1041.7 356.7 L1041.8 355.2 L1042.0 353.7 L1042.2 352.2 L1042.4 350.8 L1042.6 349.3 L1042.8 347.8 L1043.0 346.3 L1043.1 344.8 L1043.3 343.4 L1043.5 341.9 L1043.7 340.4 L1043.9 338.9 L1044.1 337.4 L1044.2 335.9 L1044.4 334.5 L1044.6 333.0 L1044.8 331.5 L1045.0 330.0 L1045.2 328.5 L1045.3 327.0 L1045.5 325.5 L1045.7 324.1 L1045.9 322.6 L1046.1 321.1 L1046.3 319.6 L1046.4 318.1 L1046.6 316.6 L1046.8 315.2 L1047.0 313.7 L1047.2 312.2 L1047.4 310.7 L1047.5 309.2 L1047.7 307.7 L1047.9 306.2 L1048.1 304.8 L1048.3 303.3 L1048.4 301.8 L1048.6 300.3 L1048.8 298.8 L1049.0 297.3 L1049.2 295.8 L1049.4 294.4 L1049.5 292.9 L1049.7 291.4 L1049.9 289.9 L1050.1 288.4 L1050.3 286.9 L1050.5 285.4 L1050.6 283.9 L1050.8 282.5 L1051.0 281.0 L1051.2 279.5 L1051.4 278.0 L1051.5 276.5 L1051.7 275.0 L1051.9 273.5 L1052.1 272.0 L1052.3 270.5 L1052.5 269.1 L1052.6 267.6 L1052.8 266.1 L1053.0 264.6 L1053.2 263.1 L1053.4 261.6 L1053.5 260.1 L1053.7 258.6 L1053.9 257.1 L1054.1 255.7 L1054.3 254.2 L1054.5 252.7 L1054.6 251.2 L1054.8 249.7 L1055.0 248.2 L1055.2 246.7 L1055.4 245.2 L1055.6 243.7 L1055.7 242.2 L1055.9 240.7 L1056.1 239.2 L1056.3 237.7 L1056.5 236.3 L1056.7 234.8 L1056.9 233.3 L1057.0 231.8 L1057.2 230.3 L1057.4 228.8 L1057.6 227.3 L1057.8 225.8 L1058.0 224.3 L1058.1 222.8 L1058.3 221.3 L1058.5 219.8 L1058.7 218.3 L1058.9 216.8 L1059.1 215.3 L1059.3 213.8 L1059.5 212.3 L1059.6 210.8 L1059.8 209.4 L1060.0 207.9 L1060.2 206.4 L1060.4 204.9 L1060.6 203.4 L1060.8 201.9 L1061.0 200.4 L1061.1 198.9 L1061.3 197.4 L1061.5 195.9 L1061.7 194.4 L1061.9 192.9 L1062.1 191.4 L1062.3 189.9 L1062.5 188.4 L1062.7 186.9 L1062.9 185.4 L1063.0 183.9 L1063.2 182.4 L1063.4 180.9 L1063.6 179.4 L1063.8 177.9 L1064.0 176.4 L1064.2 174.9 L1064.4 173.4 L1064.6 171.9 L1064.8 170.4 L1065.0 168.9 L1065.2 167.4 L1065.4 165.9 L1065.6 164.4 L1065.8 162.9 L1066.0 161.3 L1066.2 159.8 L1066.4 158.3 L1066.6 156.8 L1066.8 155.3 L1067.0 153.8 L1067.2 152.3 L1067.4 150.8 L1067.6 149.3 L1067.8 147.8 L1068.0 146.3 L1068.3 144.8 L1068.5 143.4 L1068.7 141.9 L1069.0 140.4 L1069.2 138.9 L1069.4 137.4 L1069.7 135.9 L1069.9 134.4 L1070.2 132.9 L1070.5 131.4 L1070.7 129.9 L1071.0 128.5 L1071.3 127.0 L1071.6 125.5 L1071.9 124.0 L1072.2 122.5 L1072.5 121.1 L1072.8 119.6 L1073.1 118.1 L1073.4 116.7 L1073.7 115.2 L1074.1 113.7 L1074.4 112.3 L1074.8 110.8 L1075.1 109.4 L1075.5 107.9 L1075.9 106.5 L1076.3 105.0 L1076.7 103.6 L1077.1 102.1 L1077.5 100.7 L1077.9 99.2 L1078.3 97.8 L1078.8 96.4 L1079.2 95.0 L1079.7 93.5 L1080.1 92.1 L1080.6 90.7 L1081.1 89.3 L1081.6 87.9 L1082.1 86.5 L1082.7 85.1 L1083.2 83.7 L1083.7 82.3 L1084.3 80.9 L1084.9 79.5 L1085.4 78.1 L1086.0 76.7 L1086.6 75.4 L1087.3 74.0 L1087.9 72.6 L1088.5 71.3 L1089.2 69.9 L1089.9 68.6 L1090.6 67.3 L1091.3 66.0 L1092.0 64.7 L1092.7 63.5 L1093.4 62.3 L1094.2 61.1 L1095.0 60.0 L1095.7 58.9 L1096.6 57.9 L1097.4 57.0 L1098.2 56.1 L1099.0 55.3 L1099.9 54.6 L1100.8 53.9 L1101.7 53.3 L1102.6 52.8 L1103.5 52.4 L1104.5 52.2 L1105.4 52.0 L1106.4 51.9 L1107.4 51.9 L1108.4 52.0 L1109.5 52.3 L1110.5 52.7 L1111.6 53.2 L1112.6 53.8 L1113.7 54.4 L1114.8 55.2 L1115.9 56.1 L1117.0 57.1 L1118.1 58.1 L1119.2 59.2 L1120.3 60.4 L1121.3 61.6 L1122.4 62.9 L1123.5 64.2 L1124.5 65.6 L1125.5 67.1 L1126.5 68.5 L1127.5 70.0 L1128.5 71.5 L1129.4 73.1 L1130.3 74.6 L1131.2 76.2 L1132.1 77.7 L1132.9 79.3 L1133.7 80.9 L1134.4 82.4 L1135.1 83.9 L1135.8 85.5 L1136.4 87.0 L1137.1 88.5 L1137.7 90.0 L1138.3 91.5 L1138.8 93.0 L1139.4 94.5 L1139.9 96.0 L1140.4 97.4 L1140.9 98.9 L1141.4 100.4 L1141.9 101.8 L1142.4 103.2 L1142.8 104.7 L1143.3 106.1 L1143.8 107.5 L1144.2 108.9 L1144.7 110.3 L1145.2 111.6 L1145.7 113.0 L1146.2 114.4 L1146.7 115.8 L1147.2 117.1 L1147.7 118.5 L1148.1 119.8 L1148.6 121.1 L1149.2 122.5 L1149.7 123.8 L1150.2 125.1 L1150.7 126.5 L1151.2 127.8 L1151.7 129.1 L1152.2 130.4 L1152.8 131.7 L1153.3 133.0 L1153.8 134.4 L1154.4 135.7 L1154.9 137.0 L1155.4 138.3 L1156.0 139.6 L1156.5 141.0 L1157.1 142.3 L1157.6 143.6 L1158.2 144.9 L1158.7 146.3 L1159.3 147.6 L1159.9 149.0 L1160.4 150.3 L1161.0 151.7 L1161.6 153.0 L1162.2 154.4 L1162.8 155.8 L1163.4 157.1 L1164.0 158.5 L1164.6 159.9 L1165.2 161.3 L1165.8 162.7 L1166.4 164.2 L1167.0 165.6 L1167.6 167.0 L1168.2 168.5 L1168.9 169.9 L1169.5 171.4 L1170.1 172.8 L1170.8 174.3 L1171.4 175.7 L1172.1 177.2 L1172.8 178.6 L1173.5 180.0 L1174.2 181.5 L1174.9 182.9 L1175.6 184.3 L1176.4 185.7 L1177.1 187.1 L1177.9 188.5 L1178.6 189.8 L1179.4 191.2 L1180.2 192.5 L1181.0 193.8 L1181.9 195.1 L1182.7 196.3 L1183.6 197.6 L1184.5 198.8 L1185.4 200.0 L1186.3 201.1 L1187.2 202.3 L1188.2 203.4 L1189.2 204.4 L1190.2 205.5 L1191.2 206.5 L1192.3 207.5 L1193.3 208.4 L1194.4 209.3 L1195.5 210.1 L1196.7 211.0 L1197.8 211.7 L1199.0 212.5 L1200.2 213.2 L1201.5 213.8 L1202.7 214.4 L1204.0 215.0 L1205.3 215.5 L1206.6 215.9 L1208.0 216.4 L1209.4 216.8 L1210.8 217.2 L1212.2 217.5 L1213.6 217.9 L1215.0 218.2 L1216.5 218.5 L1217.9 218.8 L1219.4 219.0 L1220.9 219.3 L1222.3 219.5 L1223.8 219.8 L1225.3 220.0 L1226.8 220.2 L1228.3 220.5 L1229.8 220.7 L1231.3 221.0 L1232.8 221.2 L1234.3 221.5 L1235.8 221.8 L1237.3 222.1 L1238.7 222.4 L1240.2 222.7 L1241.7 223.1 L1243.1 223.5 L1244.5 223.9 L1246.0 224.3 L1247.4 224.8 L1248.7 225.3 L1250.1 225.8 L1251.5 226.3 L1252.8 226.9 L1254.1 227.5 L1255.4 228.1 L1256.6 228.8 L1257.9 229.5 L1259.1 230.3 L1260.3 231.0 L1261.4 231.9 L1262.6 232.7 L1263.7 233.6 L1264.8 234.5 L1265.9 235.4 L1266.9 236.4 L1267.9 237.3 L1268.9 238.4 L1269.9 239.4 L1270.9 240.5 L1271.9 241.5 L1272.8 242.7 L1273.7 243.8 L1274.6 244.9 L1275.5 246.1 L1276.4 247.3 L1277.2 248.5 L1278.1 249.8 L1278.9 251.0 L1279.7 252.3 L1280.5 253.6 L1281.3 254.9 L1282.0 256.2 L1282.8 257.5 L1283.5 258.9 L1284.3 260.2 L1285.0 261.6 L1285.7 262.9 L1286.4 264.3 L1287.1 265.7 L1287.8 267.1 L1288.5 268.5 L1289.1 269.9 L1289.8 271.4 L1290.4 272.8 L1291.1 274.2 L1291.7 275.6 L1292.4 277.1 L1293.0 278.5 L1293.6 279.9 L1294.3 281.4 L1294.9 282.8 L1295.5 284.2 L1296.1 285.6 L1296.7 287.1 L1297.4 288.5 L1298.0 289.9 L1298.6 291.3 L1299.2 292.7 L1299.8 294.1 L1300.4 295.5 L1301.0 297.0 L1301.6 298.4 L1302.2 299.8 L1302.8 301.2 L1303.4 302.5 L1304.0 303.9 L1304.6 305.3 L1305.2 306.7 L1305.8 308.1 L1306.4 309.5 L1306.9 310.9 L1307.5 312.3 L1308.1 313.6 L1308.7 315.0 L1309.3 316.4 L1309.9 317.8 L1310.4 319.1 L1311.0 320.5 L1311.6 321.9 L1312.2 323.2 L1312.8 324.6 L1313.3 326.0 L1313.9 327.3 L1314.5 328.7 L1315.1 330.1 L1315.7 331.4 L1316.2 332.8 L1316.8 334.1 L1317.4 335.5 L1318.0 336.8 L1318.5 338.2 L1319.1 339.6 L1319.7 340.9 L1320.3 342.3 L1320.8 343.6 L1321.4 345.0 L1322.0 346.3 L1322.6 347.7 L1323.1 349.0 L1323.7 350.4 L1324.3 351.7 L1324.9 353.1 L1325.5 354.4 L1326.0 355.8 L1326.6 357.1 L1327.2 358.5 L1327.8 359.8 L1328.4 361.2 L1328.9 362.5 L1329.5 363.9 L1330.1 365.2 L1330.7 366.6 L1331.3 367.9 L1331.9 369.3 L1332.5 370.6 L1333.1 372.0 L1333.6 373.3 L1334.2 374.7 L1334.8 376.0 L1335.4 377.4 L1336.0 378.7 L1336.6 380.1 L1337.2 381.4 L1337.8 382.8 L1338.4 384.2 L1339.0 385.5 L1339.7 386.9 L1340.3 388.2 L1340.9 389.6 L1341.5 391.0 L1342.1 392.3 L1342.7 393.7 L1343.3 395.0 L1344.0 396.4 L1344.6 397.8 L1345.2 399.1 L1345.8 400.5 L1346.5 401.8 L1347.1 403.2 L1347.7 404.6 L1348.4 405.9 L1349.0 407.3 L1349.6 408.7 L1350.3 410.0 L1350.9 411.4 L1351.6 412.7 L1352.2 414.1 L1352.9 415.5 L1353.5 416.8 L1354.2 418.2 L1354.8 419.5 L1355.5 420.9 L1356.1 422.3 L1356.8 423.6 L1357.5 425.0 L1358.1 426.3 L1358.8 427.7 L1359.5 429.0 L1360.1 430.4 L1360.8 431.7 L1361.5 433.1 L1362.2 434.4 L1362.9 435.8 L1363.5 437.1 L1364.2 438.5 L1364.9 439.8 L1365.6 441.2 L1366.3 442.5 L1367.0 443.9 L1367.7 445.2 L1368.4 446.6 L1369.1 447.9 L1369.8 449.3 L1370.5 450.6 L1371.3 451.9 L1372.0 453.3 L1372.7 454.6 L1373.4 455.9 L1374.1 457.3 L1374.9 458.6 L1375.6 459.9 L1376.3 461.2 L1377.1 462.6 L1377.8 463.9 L1378.6 465.2 L1379.3 466.5 L1380.0 467.8 L1380.8 469.2 L1381.6 470.5 L1382.3 471.8 L1383.1 473.1 L1383.8 474.4 L1384.6 475.7 L1385.4 477.0 L1386.1 478.3 L1386.9 479.6 L1387.7 480.9 L1388.5 482.2 L1389.3 483.5 L1390.1 484.8 L1390.8 486.1 L1391.6 487.4 L1392.4 488.6 L1393.2 489.9 L1394.0 491.2 L1394.9 492.5 L1395.7 493.7 L1396.5 495.0 L1397.3 496.3 L1398.1 497.5 L1398.9 498.8 L1399.8 500.0 L1400.6 501.3 L1401.4 502.6 L1402.3 503.8 L1403.1 505.0 L1404.0 506.3 L1404.8 507.5 L1405.7 508.8 L1406.5 510.0 L1407.4 511.2 L1408.3 512.5 L1409.1 513.7 L1410.0 514.9 L1410.9 516.1 L1411.8 517.3 L1412.6 518.5 L1413.5 519.7 L1414.4 520.9 L1415.3 522.1 L1416.2 523.3 L1417.1 524.5 L1418.0 525.7 L1418.9 526.9 L1419.9 528.1 L1420.8 529.2 L1421.7 530.4 L1422.6 531.6 L1423.6 532.8 L1424.5 533.9 L1425.4 535.1 L1426.4 536.2 L1427.3 537.4 L1428.3 538.5 L1429.2 539.7 L1430.2 540.8 L1431.2 541.9 L1432.1 543.0 L1433.1 544.2 L1434.1 545.3 L1435.1 546.4 L1436.0 547.5 L1437.0 548.6 L1438.0 549.7 L1439.0 550.8 L1440.0 551.9 L1441.0 553.0 L1442.0 554.1 L1443.1 555.1 L1444.1 556.2 L1445.1 557.3 L1446.1 558.3 L1447.2 559.4 L1448.2 560.4 L1449.3 561.5 L1450.3 562.5 L1451.4 563.6 L1452.4 564.6 L1453.5 565.6 L1454.5 566.6 L1455.6 567.7 L1456.7 568.7 L1457.8 569.7 L1458.9 570.7 L1459.9 571.7 L1461.0 572.7 L1462.1 573.6 L1463.2 574.6 L1464.4 575.6 L1465.5 576.6 L1466.6 577.5 L1467.7 578.5 L1468.8 579.5 L1470.0 580.4 L1471.1 581.4 L1472.2 582.3 L1473.4 583.2 L1474.5 584.2 L1475.7 585.1 L1476.8 586.0 L1478.0 586.9 L1479.2 587.9 L1480.3 588.8 L1481.5 589.7 L1482.7 590.6 L1483.9 591.5 L1485.1 592.4 L1486.2 593.3 L1487.4 594.2 L1488.6 595.0 L1489.8 595.9 L1491.0 596.8 L1492.2 597.7 L1493.4 598.5 L1494.7 599.4 L1495.9 600.3 L1497.1 601.1 L1498.3 602.0 L1499.6 602.8 L1500.8 603.7 L1502.0 604.5 L1503.3 605.4 L1504.5 606.2 L1505.8 607.1 L1507.0 607.9 L1508.3 608.7 L1509.5 609.6 L1510.8 610.4 L1512.0 611.2 L1513.3 612.0 L1514.6 612.9 L1515.8 613.7 L1517.1 614.5 L1518.4 615.3 L1519.7 616.1 L1521.0 616.9 L1522.2 617.7 L1523.5 618.5 L1524.8 619.3 L1526.1 620.1 L1527.4 620.9 L1528.7 621.7 L1530.0 622.5 L1531.3 623.3 L1532.6 624.1 L1534.0 624.9 L1535.3 625.7 L1536.6 626.5 L1537.9 627.2 L1539.2 628.0 L1540.6 628.8 L1541.9 629.6 L1543.2 630.3 L1544.5 631.1 L1545.9 631.9 L1547.2 632.6 L1548.6 633.4 L1549.9 634.1 L1551.2 634.9 L1552.6 635.6 L1553.9 636.3 L1555.3 637.1 L1556.6 637.8 L1558.0 638.5 L1559.3 639.2 L1560.7 639.9 L1562.1 640.6 L1563.4 641.3 L1564.8 642.0 L1566.2 642.7 L1567.5 643.4 L1568.9 644.1 L1570.3 644.7 L1571.6 645.4 L1573.0 646.0 L1574.4 646.7 L1575.8 647.3 L1577.1 647.9 L1578.5 648.6 L1579.9 649.2 L1581.3 649.8 L1582.7 650.4 L1584.1 651.0 L1585.5 651.5 L1586.8 652.1 L1588.2 652.7 L1589.6 653.2 L1591.0 653.8 L1592.4 654.3 L1593.8 654.8 L1595.2 655.3 L1596.6 655.9 L1598.0 656.3 L1599.4 656.8 L1600.8 657.3 L1602.2 657.8 L1603.6 658.2 L1605.0 658.7 L1606.4 659.1 L1607.8 659.5 L1609.2 659.9 L1610.6 660.3 L1612.0 660.7 L1613.5 661.1 L1614.9 661.5 L1616.3 661.8 L1617.7 662.1 L1619.1 662.5 L1620.5 662.8 L1621.9 663.1 L1623.3 663.4 L1624.7 663.6 L1626.2 663.9 L1627.6 664.1 L1629.0 664.4 L1630.4 664.6 L1631.8 664.8 L1633.2 665.0 L1634.7 665.2 L1636.1 665.3 L1637.5 665.5 L1638.9 665.6 L1640.3 665.7 L1642.5 665.8" stroke="#000" stroke-width="5.6"/>
<g fill="#f00" stroke="none"><circle cx="899.2" cy="684.5" r="8.8"/><circle cx="911.6" cy="683.5" r="8.8"/><circle cx="924.0" cy="682.7" r="8.8"/><circle cx="936.4" cy="680.6" r="8.8"/><circle cx="948.8" cy="676.4" r="8.8"/><circle cx="961.2" cy="669.4" r="8.8"/><circle cx="973.6" cy="658.9" r="8.8"/><circle cx="986.0" cy="641.4" r="8.8"/><circle cx="998.4" cy="618.7" r="8.8"/><circle cx="1010.8" cy="580.9" r="8.8"/><circle cx="1023.2" cy="531.5" r="8.8"/><circle cx="1035.6" cy="470.4" r="8.8"/><circle cx="1048.0" cy="398.5" r="8.8"/><circle cx="1060.4" cy="326.4" r="8.8"/><circle cx="1072.8" cy="272.0" r="8.8"/><circle cx="1085.2" cy="231.1" r="8.8"/><circle cx="1097.6" cy="210.5" r="8.8"/><circle cx="1110.0" cy="203.8" r="8.8"/><circle cx="1122.4" cy="210.1" r="8.8"/><circle cx="1134.8" cy="225.8" r="8.8"/><circle cx="1147.2" cy="244.3" r="8.8"/><circle cx="1159.6" cy="261.1" r="8.8"/><circle cx="1172.0" cy="278.2" r="8.8"/><circle cx="1184.4" cy="289.9" r="8.8"/><circle cx="1196.8" cy="299.7" r="8.8"/><circle cx="1209.2" cy="301.9" r="8.8"/><circle cx="1221.6" cy="303.5" r="8.8"/><circle cx="1234.0" cy="305.1" r="8.8"/><circle cx="1246.4" cy="307.1" r="8.8"/><circle cx="1258.8" cy="311.1" r="8.8"/><circle cx="1271.2" cy="320.0" r="8.8"/><circle cx="1283.6" cy="332.1" r="8.8"/><circle cx="1296.0" cy="354.8" r="8.8"/><circle cx="1308.4" cy="377.4" r="8.8"/><circle cx="1320.8" cy="399.3" r="8.8"/><circle cx="1333.2" cy="421.3" r="8.8"/><circle cx="1345.6" cy="443.2" r="8.8"/><circle cx="1358.0" cy="463.8" r="8.8"/><circle cx="1370.4" cy="482.9" r="8.8"/><circle cx="1382.8" cy="500.1" r="8.8"/><circle cx="1395.2" cy="515.8" r="8.8"/><circle cx="1407.6" cy="531.2" r="8.8"/><circle cx="1420.0" cy="544.9" r="8.8"/><circle cx="1432.4" cy="557.1" r="8.8"/><circle cx="1444.8" cy="568.7" r="8.8"/><circle cx="1457.2" cy="579.3" r="8.8"/><circle cx="1469.6" cy="588.9" r="8.8"/><circle cx="1482.0" cy="597.9" r="8.8"/><circle cx="1494.4" cy="606.5" r="8.8"/><circle cx="1506.8" cy="614.1" r="8.8"/><circle cx="1519.2" cy="621.6" r="8.8"/><circle cx="1531.6" cy="628.3" r="8.8"/><circle cx="1544.0" cy="634.3" r="8.8"/><circle cx="1556.4" cy="640.3" r="8.8"/><circle cx="1568.8" cy="645.5" r="8.8"/><circle cx="1581.2" cy="650.1" r="8.8"/><circle cx="1593.6" cy="654.6" r="8.8"/><circle cx="1606.0" cy="658.6" r="8.8"/><circle cx="1618.4" cy="662.2" r="8.8"/><circle cx="1630.8" cy="664.9" r="8.8"/><circle cx="1643.2" cy="667.1" r="8.8"/></g>
<path d="M900.6 684.2 L902.1 683.7 L903.6 683.9 L905.0 684.1 L906.5 684.2 L908.0 684.4 L909.5 684.4 L911.0 684.5 L912.5 684.5 L914.0 684.5 L915.5 684.5 L917.0 684.4 L918.5 684.3 L920.0 684.2 L921.5 684.1 L923.0 683.9 L924.5 683.7 L926.0 683.5 L927.5 683.3 L929.0 683.0 L930.5 682.7 L931.9 682.4 L933.4 682.0 L934.9 681.6 L936.3 681.2 L937.8 680.8 L939.2 680.3 L940.7 679.9 L942.1 679.4 L943.5 678.9 L945.0 678.3 L946.4 677.7 L947.8 677.2 L949.2 676.5 L950.5 675.9 L951.9 675.3 L953.3 674.6 L954.6 673.9 L956.0 673.2 L957.3 672.4 L958.6 671.7 L959.9 670.9 L961.2 670.1 L962.5 669.3 L963.8 668.4 L965.0 667.6 L966.2 666.7 L967.5 665.8 L968.7 664.9 L969.9 664.0 L971.0 663.1 L972.2 662.1 L973.3 661.1 L974.5 660.1 L975.6 659.1 L976.6 658.1 L977.7 657.0 L978.8 656.0 L979.8 654.9 L980.8 653.8 L981.8 652.7 L982.8 651.6 L983.7 650.5 L984.6 649.3 L985.6 648.2 L986.4 647.0 L987.3 645.8 L988.2 644.6 L989.0 643.4 L989.8 642.2 L990.6 640.9 L991.4 639.7 L992.1 638.4 L992.9 637.2 L993.6 635.9 L994.3 634.6 L995.0 633.3 L995.7 632.0 L996.4 630.7 L997.0 629.4 L997.7 628.0 L998.3 626.7 L998.9 625.3 L999.5 624.0 L1000.1 622.6 L1000.6 621.2 L1001.2 619.8 L1001.8 618.4 L1002.3 617.0 L1002.8 615.6 L1003.3 614.2 L1003.8 612.8 L1004.3 611.4 L1004.8 610.0 L1005.3 608.5 L1005.8 607.1 L1006.2 605.6 L1006.7 604.2 L1007.1 602.7 L1007.5 601.3 L1008.0 599.8 L1008.4 598.4 L1008.8 596.9 L1009.2 595.4 L1009.6 594.0 L1010.0 592.5 L1010.4 591.0 L1010.8 589.6 L1011.2 588.1 L1011.6 586.6 L1011.9 585.1 L1012.3 583.7 L1012.7 582.2 L1013.0 580.7 L1013.4 579.2 L1013.8 577.7 L1014.1 576.3 L1014.5 574.8 L1014.9 573.3 L1015.2 571.9 L1015.6 570.4 L1015.9 568.9 L1016.3 567.4 L1016.6 566.0 L1017.0 564.5 L1017.3 563.0 L1017.7 561.6 L1018.0 560.1 L1018.4 558.6 L1018.7 557.2 L1019.0 555.7 L1019.4 554.2 L1019.7 552.8 L1020.1 551.3 L1020.4 549.8 L1020.7 548.4 L1021.0 546.9 L1021.4 545.4 L1021.7 544.0 L1022.0 542.5 L1022.4 541.1 L1022.7 539.6 L1023.0 538.1 L1023.3 536.7 L1023.6 535.2 L1024.0 533.8 L1024.3 532.3 L1024.6 530.8 L1024.9 529.4 L1025.2 527.9 L1025.5 526.5 L1025.8 525.0 L1026.1 523.6 L1026.4 522.1 L1026.7 520.6 L1027.1 519.2 L1027.4 517.7 L1027.7 516.3 L1028.0 514.8 L1028.3 513.4 L1028.6 511.9 L1028.8 510.5 L1029.1 509.0 L1029.4 507.5 L1029.7 506.1 L1030.0 504.6 L1030.3 503.2 L1030.6 501.7 L1030.9 500.3 L1031.2 498.8 L1031.5 497.4 L1031.8 495.9 L1032.0 494.5 L1032.3 493.0 L1032.6 491.5 L1032.9 490.1 L1033.2 488.6 L1033.4 487.2 L1033.7 485.7 L1034.0 484.3 L1034.3 482.8 L1034.6 481.4 L1034.8 479.9 L1035.1 478.5 L1035.4 477.0 L1035.6 475.6 L1035.9 474.1 L1036.2 472.7 L1036.5 471.2 L1036.7 469.7 L1037.0 468.3 L1037.3 466.8 L1037.5 465.4 L1037.8 463.9 L1038.1 462.5 L1038.3 461.0 L1038.6 459.6 L1038.8 458.1 L1039.1 456.7 L1039.4 455.2 L1039.6 453.7 L1039.9 452.3 L1040.1 450.8 L1040.4 449.4 L1040.7 447.9 L1040.9 446.5 L1041.2 445.0 L1041.4 443.5 L1041.7 442.1 L1041.9 440.6 L1042.2 439.2 L1042.4 437.7 L1042.7 436.2 L1042.9 434.8 L1043.2 433.3 L1043.4 431.9 L1043.7 430.4 L1043.9 428.9 L1044.2 427.5 L1044.4 426.0 L1044.7 424.6 L1044.9 423.1 L1045.2 421.6 L1045.4 420.2 L1045.7 418.7 L1045.9 417.2 L1046.2 415.8 L1046.4 414.3 L1046.7 412.8 L1046.9 411.4 L1047.1 409.9 L1047.4 408.4 L1047.6 407.0 L1047.9 405.5 L1048.1 404.0 L1048.4 402.5 L1048.6 401.1 L1048.9 399.6 L1049.1 398.1 L1049.3 396.6 L1049.6 395.2 L1049.8 393.7 L1050.1 392.2 L1050.3 390.7 L1050.5 389.3 L1050.8 387.8 L1051.0 386.3 L1051.3 384.8 L1051.5 383.3 L1051.7 381.9 L1052.0 380.4 L1052.2 378.9 L1052.5 377.4 L1052.7 375.9 L1052.9 374.4 L1053.2 373.0 L1053.4 371.5 L1053.7 370.0 L1053.9 368.5 L1054.1 367.0 L1054.4 365.5 L1054.6 364.0 L1054.9 362.5 L1055.1 361.0 L1055.4 359.5 L1055.6 358.0 L1055.8 356.5 L1056.1 355.0 L1056.3 353.5 L1056.6 352.0 L1056.8 350.5 L1057.0 349.0 L1057.3 347.5 L1057.5 346.0 L1057.8 344.5 L1058.0 343.0 L1058.3 341.5 L1058.5 340.0 L1058.7 338.5 L1059.0 337.0 L1059.2 335.5 L1059.5 334.0 L1059.7 332.5 L1060.0 330.9 L1060.2 329.4 L1060.4 327.9 L1060.7 326.4 L1060.9 324.9 L1061.2 323.3 L1061.4 321.8 L1061.7 320.3 L1061.9 318.8 L1062.2 317.2 L1062.4 315.7 L1062.7 314.2 L1062.9 312.7 L1063.2 311.1 L1063.4 309.6 L1063.7 308.1 L1063.9 306.5 L1064.2 305.0 L1064.4 303.5 L1064.7 301.9 L1065.0 300.4 L1065.2 298.9 L1065.5 297.3 L1065.8 295.8 L1066.0 294.3 L1066.3 292.8 L1066.6 291.2 L1066.9 289.7 L1067.2 288.2 L1067.5 286.7 L1067.7 285.2 L1068.0 283.6 L1068.3 282.1 L1068.7 280.6 L1069.0 279.1 L1069.3 277.6 L1069.6 276.1 L1069.9 274.6 L1070.3 273.2 L1070.6 271.7 L1071.0 270.2 L1071.3 268.7 L1071.7 267.3 L1072.1 265.8 L1072.4 264.3 L1072.8 262.9 L1073.2 261.5 L1073.6 260.0 L1074.0 258.6 L1074.4 257.2 L1074.8 255.7 L1075.3 254.3 L1075.7 252.9 L1076.2 251.5 L1076.6 250.2 L1077.1 248.8 L1077.6 247.4 L1078.1 246.0 L1078.6 244.7 L1079.1 243.3 L1079.6 242.0 L1080.1 240.7 L1080.7 239.4 L1081.2 238.1 L1081.8 236.8 L1082.4 235.5 L1083.0 234.2 L1083.6 232.9 L1084.2 231.7 L1084.9 230.4 L1085.5 229.2 L1086.2 228.0 L1087.0 226.8 L1087.7 225.6 L1088.5 224.4 L1089.2 223.2 L1090.0 222.0 L1090.9 220.9 L1091.7 219.8 L1092.6 218.6 L1093.6 217.5 L1094.5 216.4 L1095.5 215.3 L1096.5 214.3 L1097.5 213.3 L1098.6 212.3 L1099.6 211.3 L1100.7 210.4 L1101.9 209.6 L1103.0 208.8 L1104.1 208.1 L1105.3 207.5 L1106.5 206.9 L1107.7 206.5 L1108.8 206.2 L1110.0 206.0 L1111.2 205.9 L1112.4 206.0 L1113.6 206.1 L1114.8 206.3 L1116.0 206.7 L1117.1 207.1 L1118.3 207.7 L1119.5 208.3 L1120.6 209.0 L1121.7 209.8 L1122.8 210.7 L1123.9 211.6 L1125.0 212.6 L1126.0 213.7 L1127.0 214.8 L1128.1 216.0 L1129.1 217.3 L1130.1 218.5 L1131.0 219.8 L1132.0 221.1 L1132.9 222.5 L1133.9 223.8 L1134.8 225.2 L1135.7 226.5 L1136.6 227.9 L1137.5 229.2 L1138.4 230.6 L1139.3 231.9 L1140.1 233.2 L1141.0 234.5 L1141.8 235.7 L1142.7 237.0 L1143.5 238.2 L1144.3 239.5 L1145.2 240.7 L1146.0 242.0 L1146.8 243.2 L1147.6 244.5 L1148.4 245.7 L1149.2 247.0 L1150.0 248.2 L1150.8 249.5 L1151.6 250.8 L1152.4 252.0 L1153.2 253.3 L1154.0 254.6 L1154.8 255.9 L1155.6 257.3 L1156.4 258.6 L1157.2 260.0 L1158.0 261.3 L1158.8 262.7 L1159.6 264.1 L1160.5 265.5 L1161.3 266.9 L1162.1 268.3 L1162.9 269.7 L1163.8 271.0 L1164.6 272.4 L1165.5 273.8 L1166.3 275.2 L1167.2 276.5 L1168.1 277.9 L1169.0 279.2 L1169.9 280.5 L1170.8 281.8 L1171.7 283.1 L1172.6 284.4 L1173.6 285.6 L1174.5 286.8 L1175.5 288.0 L1176.5 289.2 L1177.4 290.3 L1178.5 291.4 L1179.5 292.5 L1180.5 293.5 L1181.6 294.5 L1182.6 295.5 L1183.7 296.4 L1184.8 297.2 L1185.9 298.1 L1187.1 298.9 L1188.2 299.6 L1189.4 300.3 L1190.6 300.9 L1191.8 301.5 L1193.1 302.1 L1194.3 302.6 L1195.6 303.1 L1196.9 303.5 L1198.1 303.9 L1199.5 304.2 L1200.8 304.6 L1202.1 304.9 L1203.5 305.1 L1204.8 305.4 L1206.2 305.6 L1207.6 305.8 L1209.0 306.0 L1210.4 306.2 L1211.8 306.4 L1213.2 306.5 L1214.7 306.6 L1216.1 306.8 L1217.5 306.9 L1219.0 307.0 L1220.4 307.2 L1221.9 307.3 L1223.3 307.4 L1224.8 307.6 L1226.3 307.7 L1227.7 307.9 L1229.2 308.1 L1230.6 308.3 L1232.1 308.5 L1233.6 308.7 L1235.0 309.0 L1236.5 309.2 L1237.9 309.5 L1239.4 309.8 L1240.8 310.1 L1242.2 310.5 L1243.7 310.8 L1245.1 311.2 L1246.5 311.6 L1247.9 312.1 L1249.3 312.5 L1250.7 313.0 L1252.1 313.5 L1253.4 314.1 L1254.8 314.6 L1256.1 315.2 L1257.4 315.9 L1258.8 316.5 L1260.1 317.2 L1261.3 317.9 L1262.6 318.7 L1263.9 319.5 L1265.1 320.3 L1266.3 321.1 L1267.5 322.0 L1268.7 322.9 L1269.9 323.8 L1271.1 324.7 L1272.2 325.7 L1273.4 326.7 L1274.5 327.7 L1275.6 328.8 L1276.7 329.8 L1277.8 330.9 L1278.8 332.0 L1279.9 333.1 L1281.0 334.3 L1282.0 335.4 L1283.0 336.6 L1284.0 337.8 L1285.0 339.0 L1286.0 340.2 L1287.0 341.4 L1288.0 342.7 L1288.9 343.9 L1289.9 345.2 L1290.8 346.4 L1291.7 347.7 L1292.6 349.0 L1293.5 350.3 L1294.4 351.6 L1295.3 352.9 L1296.2 354.2 L1297.1 355.5 L1297.9 356.8 L1298.8 358.1 L1299.6 359.4 L1300.4 360.7 L1301.3 362.0 L1302.1 363.3 L1302.9 364.6 L1303.7 366.0 L1304.5 367.3 L1305.2 368.6 L1306.0 369.9 L1306.8 371.2 L1307.6 372.6 L1308.3 373.9 L1309.1 375.2 L1309.8 376.5 L1310.5 377.9 L1311.3 379.2 L1312.0 380.5 L1312.7 381.8 L1313.4 383.2 L1314.1 384.5 L1314.9 385.8 L1315.6 387.2 L1316.2 388.5 L1316.9 389.8 L1317.6 391.2 L1318.3 392.5 L1319.0 393.8 L1319.7 395.2 L1320.3 396.5 L1321.0 397.8 L1321.7 399.2 L1322.3 400.5 L1323.0 401.9 L1323.7 403.2 L1324.3 404.5 L1325.0 405.9 L1325.6 407.2 L1326.3 408.5 L1326.9 409.9 L1327.6 411.2 L1328.2 412.5 L1328.8 413.9 L1329.5 415.2 L1330.1 416.5 L1330.8 417.9 L1331.4 419.2 L1332.1 420.5 L1332.7 421.9 L1333.3 423.2 L1334.0 424.5 L1334.6 425.9 L1335.3 427.2 L1335.9 428.5 L1336.6 429.8 L1337.2 431.2 L1337.9 432.5 L1338.5 433.8 L1339.2 435.1 L1339.8 436.4 L1340.5 437.8 L1341.1 439.1 L1341.8 440.4 L1342.5 441.7 L1343.1 443.0 L1343.8 444.3 L1344.5 445.6 L1345.1 446.9 L1345.8 448.2 L1346.5 449.6 L1347.2 450.9 L1347.9 452.2 L1348.6 453.5 L1349.3 454.7 L1350.0 456.0 L1350.7 457.3 L1351.4 458.6 L1352.2 459.9 L1352.9 461.2 L1353.6 462.5 L1354.4 463.8 L1355.1 465.0 L1355.9 466.3 L1356.6 467.6 L1357.4 468.9 L1358.1 470.1 L1358.9 471.4 L1359.7 472.7 L1360.4 473.9 L1361.2 475.2 L1362.0 476.4 L1362.8 477.7 L1363.6 478.9 L1364.4 480.2 L1365.2 481.4 L1366.0 482.7 L1366.8 483.9 L1367.7 485.2 L1368.5 486.4 L1369.3 487.6 L1370.1 488.9 L1371.0 490.1 L1371.8 491.3 L1372.7 492.6 L1373.5 493.8 L1374.4 495.0 L1375.2 496.2 L1376.1 497.4 L1377.0 498.7 L1377.8 499.9 L1378.7 501.1 L1379.6 502.3 L1380.5 503.5 L1381.4 504.7 L1382.3 505.9 L1383.2 507.1 L1384.1 508.2 L1385.0 509.4 L1385.9 510.6 L1386.8 511.8 L1387.8 513.0 L1388.7 514.1 L1389.6 515.3 L1390.5 516.5 L1391.5 517.7 L1392.4 518.8 L1393.4 520.0 L1394.3 521.1 L1395.3 522.3 L1396.2 523.4 L1397.2 524.6 L1398.2 525.7 L1399.2 526.9 L1400.1 528.0 L1401.1 529.1 L1402.1 530.3 L1403.1 531.4 L1404.1 532.5 L1405.1 533.7 L1406.1 534.8 L1407.1 535.9 L1408.1 537.0 L1409.1 538.1 L1410.1 539.2 L1411.1 540.3 L1412.2 541.4 L1413.2 542.5 L1414.2 543.6 L1415.3 544.7 L1416.3 545.8 L1417.4 546.9 L1418.4 547.9 L1419.5 549.0 L1420.5 550.1 L1421.6 551.2 L1422.6 552.2 L1423.7 553.3 L1424.8 554.3 L1425.9 555.4 L1426.9 556.4 L1428.0 557.5 L1429.1 558.5 L1430.2 559.6 L1431.3 560.6 L1432.4 561.6 L1433.5 562.7 L1434.6 563.7 L1435.7 564.7 L1436.8 565.7 L1437.9 566.7 L1439.0 567.7 L1440.2 568.8 L1441.3 569.8 L1442.4 570.7 L1443.5 571.7 L1444.7 572.7 L1445.8 573.7 L1447.0 574.7 L1448.1 575.7 L1449.3 576.7 L1450.4 577.6 L1451.6 578.6 L1452.7 579.5 L1453.9 580.5 L1455.1 581.5 L1456.2 582.4 L1457.4 583.4 L1458.6 584.3 L1459.8 585.2 L1460.9 586.2 L1462.1 587.1 L1463.3 588.0 L1464.5 588.9 L1465.7 589.9 L1466.9 590.8 L1468.1 591.7 L1469.3 592.6 L1470.5 593.5 L1471.7 594.4 L1472.9 595.3 L1474.2 596.1 L1475.4 597.0 L1476.6 597.9 L1477.8 598.8 L1479.0 599.7 L1480.3 600.5 L1481.5 601.4 L1482.8 602.2 L1484.0 603.1 L1485.2 603.9 L1486.5 604.8 L1487.7 605.6 L1489.0 606.4 L1490.2 607.3 L1491.5 608.1 L1492.8 608.9 L1494.0 609.7 L1495.3 610.5 L1496.6 611.3 L1497.8 612.1 L1499.1 612.9 L1500.4 613.7 L1501.7 614.5 L1503.0 615.3 L1504.2 616.1 L1505.5 616.8 L1506.8 617.6 L1508.1 618.4 L1509.4 619.1 L1510.7 619.9 L1512.0 620.6 L1513.3 621.4 L1514.6 622.1 L1515.9 622.8 L1517.2 623.6 L1518.6 624.3 L1519.9 625.0 L1521.2 625.7 L1522.5 626.4 L1523.8 627.1 L1525.2 627.8 L1526.5 628.5 L1527.8 629.2 L1529.2 629.9 L1530.5 630.6 L1531.8 631.2 L1533.2 631.9 L1534.5 632.6 L1535.9 633.2 L1537.2 633.9 L1538.6 634.5 L1539.9 635.2 L1541.3 635.8 L1542.6 636.4 L1544.0 637.0 L1545.4 637.7 L1546.7 638.3 L1548.1 638.9 L1549.5 639.5 L1550.8 640.1 L1552.2 640.7 L1553.6 641.3 L1555.0 641.8 L1556.3 642.4 L1557.7 643.0 L1559.1 643.6 L1560.5 644.1 L1561.9 644.7 L1563.3 645.2 L1564.7 645.8 L1566.1 646.3 L1567.5 646.8 L1568.8 647.4 L1570.2 647.9 L1571.6 648.4 L1573.1 648.9 L1574.5 649.4 L1575.9 649.9 L1577.3 650.4 L1578.7 650.9 L1580.1 651.4 L1581.5 651.8 L1582.9 652.3 L1584.3 652.8 L1585.8 653.2 L1587.2 653.7 L1588.6 654.1 L1590.0 654.5 L1591.5 655.0 L1592.9 655.4 L1594.3 655.8 L1595.8 656.2 L1597.2 656.7 L1598.6 657.1 L1600.1 657.5 L1601.5 657.8 L1602.9 658.2 L1604.4 658.6 L1605.8 659.0 L1607.3 659.3 L1608.7 659.7 L1610.2 660.1 L1611.6 660.4 L1613.1 660.8 L1614.5 661.1 L1616.0 661.4 L1617.4 661.7 L1618.9 662.1 L1620.3 662.4 L1621.8 662.7 L1623.2 663.0 L1624.7 663.3 L1626.2 663.5 L1627.6 663.8 L1629.1 664.1 L1630.6 664.4 L1632.0 664.6 L1633.5 664.9 L1635.0 665.1 L1636.5 665.4 L1637.9 665.6 L1639.4 665.8 L1640.9 666.0 L1642.5 666.9" stroke="#00f" stroke-width="6"/>
</g>
<g stroke="#000" fill="none" stroke-width="4.3">
<path d="M158.0 3.9 H1642.6 V709.0 H158.0 Z"/>
<path d="M900.6 3.9 V709.0" stroke-width="5"/>
</g>
<g stroke="#000" fill="none" stroke-width="4" stroke-linecap="round">
<path d="M158.0 686.5 H147.3"/>
<path d="M158.0 610.6 H151.6"/>
<path d="M158.0 534.8 H147.3"/>
<path d="M158.0 458.9 H151.6"/>
<path d="M158.0 383.1 H147.3"/>
<path d="M158.0 307.2 H151.6"/>
<path d="M158.0 231.3 H147.3"/>
<path d="M158.0 155.5 H151.6"/>
<path d="M158.0 79.6 H147.3"/>
<path d="M158.0 3.8 H151.6"/>
<path d="M900.6 686.5 H889.5"/>
<path d="M900.6 610.6 H893.8"/>
<path d="M900.6 534.8 H889.5"/>
<path d="M900.6 458.9 H893.8"/>
<path d="M900.6 383.1 H889.5"/>
<path d="M900.6 307.2 H893.8"/>
<path d="M900.6 231.3 H889.5"/>
<path d="M900.6 155.5 H893.8"/>
<path d="M900.6 79.6 H889.5"/>
<path d="M900.6 3.8 H893.8"/>
<path d="M261.2 709.0 V715.0"/>
<path d="M390.5 709.0 V721.0"/>
<path d="M519.8 709.0 V715.0"/>
<path d="M649.1 709.0 V721.0"/>
<path d="M778.4 709.0 V715.0"/>
<path d="M1002.0 709.0 V715.0"/>
<path d="M1131.3 709.0 V721.0"/>
<path d="M1260.6 709.0 V715.0"/>
<path d="M1389.9 709.0 V721.0"/>
<path d="M1519.2 709.0 V715.0"/>
</g>
<g font-family="'Liberation Sans', Arial, sans-serif" fill="#000">
<text transform="translate(138.90 698.50) scale(0.97 1)" font-size="43" text-anchor="end">0</text>
<text transform="translate(138.90 546.78) scale(0.97 1)" font-size="43" text-anchor="end">200</text>
<text transform="translate(138.90 395.06) scale(0.97 1)" font-size="43" text-anchor="end">400</text>
<text transform="translate(138.90 243.34) scale(0.97 1)" font-size="43" text-anchor="end">600</text>
<text transform="translate(138.90 91.62) scale(0.97 1)" font-size="43" text-anchor="end">800</text>
<text transform="translate(390.50 762.40) scale(0.96 1)" font-size="43" text-anchor="middle">500</text>
<text transform="translate(649.10 762.40) scale(0.96 1)" font-size="43" text-anchor="middle">550</text>
<text transform="translate(1131.30 762.40) scale(0.96 1)" font-size="43" text-anchor="middle">500</text>
<text transform="translate(1389.90 762.40) scale(0.96 1)" font-size="43" text-anchor="middle">550</text>
<text transform="translate(890.50 832.30)" font-size="55.6" text-anchor="middle">Wavelength (nm)</text>
<text transform="translate(45.60 330.50) rotate(-90) scale(1.035 1)" font-size="56.3" text-anchor="middle">Fluorescence (a.u)</text>
<text transform="translate(171.60 65.00) scale(0.92 1)" font-size="53">A</text>
<text transform="translate(920.20 65.70) scale(0.945 1)" font-size="55.5">B</text>
</g>
<g>
<rect x="656.6" y="28.9" width="207.4" height="280.7" fill="#fff" stroke="#2b2b2b" stroke-width="2.5"/>
<clipPath id="ci656"><rect x="656.6" y="28.9" width="207.4" height="280.7"/></clipPath>
<g clip-path="url(#ci656)" fill="none" stroke-linejoin="round" stroke-linecap="round">
<path d="M656.5 283.0 L657.7 281.6 L658.3 280.4 L658.9 279.2 L659.6 278.1 L660.2 276.9 L660.8 275.6 L661.4 274.4 L662.0 273.1 L662.7 271.8 L663.3 270.5 L663.9 269.2 L664.6 267.9 L665.2 266.6 L665.8 265.2 L666.5 263.8 L667.1 262.5 L667.8 261.1 L668.5 259.7 L669.1 258.3 L669.8 256.9 L670.5 255.5 L671.2 254.1 L671.9 252.7 L672.6 251.3 L673.3 249.9 L674.1 248.5 L674.8 247.1 L675.6 245.8 L676.4 244.4 L677.2 243.0 L678.0 241.6 L678.8 240.3 L679.6 238.9 L680.5 237.6 L681.4 236.2 L682.3 234.9 L683.2 233.6 L684.1 232.3 L685.0 231.1 L686.0 229.8 L687.0 228.6 L688.0 227.4 L689.0 226.2 L690.1 225.1 L691.1 223.9 L692.2 222.8 L693.3 221.8 L694.4 220.8 L695.6 219.8 L696.7 218.8 L697.9 217.9 L699.0 217.1 L700.2 216.3 L701.4 215.6 L702.6 214.9 L703.8 214.3 L705.1 213.7 L706.3 213.3 L707.5 212.8 L708.8 212.5 L710.1 212.2 L711.3 212.1 L712.6 211.9 L713.9 211.9 L715.1 212.0 L716.4 212.1 L717.7 212.3 L719.0 212.6 L720.2 212.9 L721.5 213.4 L722.8 213.8 L724.1 214.4 L725.4 215.0 L726.6 215.6 L727.9 216.3 L729.2 217.0 L730.4 217.8 L731.6 218.6 L732.9 219.5 L734.1 220.4 L735.3 221.3 L736.5 222.2 L737.7 223.2 L738.9 224.2 L740.1 225.2 L741.3 226.2 L742.4 227.3 L743.5 228.3 L744.7 229.4 L745.8 230.5 L746.9 231.6 L747.9 232.6 L749.0 233.7 L750.1 234.9 L751.2 236.0 L752.2 237.1 L753.3 238.2 L754.3 239.3 L755.3 240.5 L756.4 241.6 L757.4 242.8 L758.4 243.9 L759.4 245.0 L760.5 246.2 L761.5 247.3 L762.5 248.5 L763.5 249.6 L764.6 250.7 L765.6 251.9 L766.6 253.0 L767.6 254.1 L768.7 255.2 L769.7 256.4 L770.8 257.5 L771.8 258.5 L772.9 259.6 L774.0 260.7 L775.0 261.8 L776.1 262.8 L777.2 263.9 L778.3 264.9 L779.4 266.0 L780.5 267.0 L781.6 268.0 L782.7 269.0 L783.8 270.0 L785.0 271.0 L786.1 272.0 L787.3 272.9 L788.4 273.9 L789.6 274.8 L790.7 275.8 L791.9 276.7 L793.1 277.6 L794.3 278.5 L795.5 279.3 L796.7 280.2 L797.9 281.1 L799.1 281.9 L800.3 282.7 L801.5 283.5 L802.8 284.3 L804.0 285.1 L805.3 285.9 L806.6 286.6 L807.8 287.4 L809.1 288.1 L810.4 288.8 L811.7 289.5 L813.0 290.2 L814.3 290.8 L815.6 291.5 L816.9 292.1 L818.3 292.7 L819.6 293.3 L821.0 293.9 L822.3 294.4 L823.7 295.0 L825.1 295.5 L826.4 296.0 L827.8 296.5 L829.2 296.9 L830.7 297.4 L832.1 297.8 L833.5 298.2 L834.9 298.6 L836.4 298.9 L837.8 299.3 L839.3 299.6 L840.8 299.9 L842.3 300.2 L843.8 300.4 L845.3 300.7 L846.8 300.9 L848.3 301.1 L849.8 301.2 L851.4 301.4 L852.9 301.5 L854.5 301.6 L856.0 301.7 L857.6 301.7 L859.2 301.7 L860.8 301.7 L862.4 301.7 L863.5 301.9" stroke="#000" stroke-width="5.8"/>
<path d="M656.5 223.0 L657.0 221.5 L657.2 220.1 L657.5 218.7 L657.8 217.2 L658.0 215.8 L658.3 214.3 L658.6 212.8 L658.8 211.4 L659.1 209.9 L659.3 208.5 L659.6 207.0 L659.8 205.5 L660.1 204.1 L660.4 202.6 L660.6 201.1 L660.9 199.7 L661.1 198.2 L661.4 196.7 L661.6 195.2 L661.9 193.8 L662.1 192.3 L662.4 190.8 L662.7 189.3 L662.9 187.8 L663.2 186.4 L663.4 184.9 L663.7 183.4 L663.9 181.9 L664.2 180.4 L664.5 178.9 L664.7 177.4 L665.0 176.0 L665.2 174.5 L665.5 173.0 L665.8 171.5 L666.0 170.0 L666.3 168.5 L666.5 167.0 L666.8 165.6 L667.1 164.1 L667.3 162.6 L667.6 161.1 L667.9 159.6 L668.1 158.1 L668.4 156.6 L668.7 155.2 L669.0 153.7 L669.2 152.2 L669.5 150.7 L669.8 149.2 L670.1 147.8 L670.3 146.3 L670.6 144.8 L670.9 143.3 L671.2 141.9 L671.5 140.4 L671.7 138.9 L672.0 137.5 L672.3 136.0 L672.6 134.5 L672.9 133.1 L673.2 131.6 L673.5 130.2 L673.8 128.7 L674.1 127.2 L674.4 125.8 L674.7 124.3 L675.0 122.9 L675.3 121.5 L675.6 120.0 L675.9 118.6 L676.2 117.1 L676.5 115.7 L676.9 114.3 L677.2 112.9 L677.5 111.4 L677.8 110.0 L678.1 108.6 L678.5 107.2 L678.8 105.8 L679.1 104.4 L679.5 102.9 L679.8 101.5 L680.2 100.1 L680.6 98.7 L680.9 97.3 L681.3 95.9 L681.7 94.4 L682.1 93.0 L682.5 91.6 L682.9 90.2 L683.3 88.7 L683.7 87.3 L684.2 85.8 L684.6 84.4 L685.1 82.9 L685.6 81.4 L686.1 79.9 L686.6 78.4 L687.1 76.9 L687.7 75.4 L688.2 73.9 L688.8 72.3 L689.4 70.8 L690.0 69.2 L690.6 67.7 L691.2 66.1 L691.9 64.5 L692.5 63.0 L693.2 61.5 L694.0 60.0 L694.7 58.5 L695.4 57.1 L696.2 55.8 L697.0 54.5 L697.8 53.3 L698.7 52.2 L699.6 51.1 L700.5 50.1 L701.4 49.3 L702.3 48.6 L703.3 48.0 L704.3 47.5 L705.3 47.2 L706.4 47.1 L707.4 47.1 L708.5 47.2 L709.5 47.5 L710.6 47.8 L711.6 48.3 L712.7 48.9 L713.7 49.6 L714.6 50.4 L715.6 51.3 L716.5 52.3 L717.4 53.4 L718.2 54.5 L719.0 55.7 L719.9 56.9 L720.6 58.2 L721.4 59.6 L722.2 61.0 L722.9 62.4 L723.6 63.9 L724.3 65.4 L725.0 66.9 L725.7 68.4 L726.3 69.9 L727.0 71.4 L727.6 73.0 L728.3 74.5 L728.9 76.0 L729.5 77.5 L730.2 79.0 L730.8 80.5 L731.4 81.9 L732.0 83.4 L732.6 84.8 L733.2 86.3 L733.8 87.7 L734.3 89.2 L734.9 90.6 L735.5 92.0 L736.1 93.4 L736.6 94.9 L737.2 96.3 L737.7 97.7 L738.3 99.1 L738.8 100.5 L739.4 101.9 L739.9 103.2 L740.4 104.6 L741.0 106.0 L741.5 107.4 L742.0 108.8 L742.5 110.1 L743.0 111.5 L743.6 112.9 L744.1 114.2 L744.6 115.6 L745.1 117.0 L745.6 118.3 L746.1 119.7 L746.6 121.1 L747.1 122.4 L747.6 123.8 L748.1 125.2 L748.6 126.6 L749.1 127.9 L749.6 129.3 L750.1 130.7 L750.6 132.1 L751.1 133.4 L751.6 134.8 L752.1 136.2 L752.6 137.6 L753.1 139.0 L753.5 140.4 L754.0 141.8 L754.5 143.2 L755.0 144.6 L755.5 145.9 L756.0 147.3 L756.5 148.7 L757.0 150.1 L757.5 151.5 L758.0 152.9 L758.5 154.3 L759.0 155.7 L759.5 157.1 L760.1 158.5 L760.6 159.9 L761.1 161.3 L761.6 162.7 L762.1 164.2 L762.6 165.6 L763.2 167.0 L763.7 168.4 L764.2 169.8 L764.7 171.2 L765.3 172.6 L765.8 174.0 L766.4 175.4 L766.9 176.8 L767.5 178.1 L768.0 179.5 L768.6 180.9 L769.1 182.3 L769.7 183.7 L770.3 185.1 L770.8 186.5 L771.4 187.9 L772.0 189.3 L772.6 190.6 L773.2 192.0 L773.8 193.4 L774.4 194.8 L775.0 196.2 L775.6 197.5 L776.2 198.9 L776.8 200.3 L777.5 201.6 L778.1 203.0 L778.7 204.3 L779.4 205.7 L780.0 207.0 L780.7 208.4 L781.4 209.7 L782.0 211.1 L782.7 212.4 L783.4 213.7 L784.1 215.1 L784.8 216.4 L785.5 217.7 L786.2 219.0 L786.9 220.4 L787.7 221.7 L788.4 223.0 L789.2 224.3 L789.9 225.6 L790.7 226.9 L791.4 228.2 L792.2 229.4 L793.0 230.7 L793.8 232.0 L794.6 233.3 L795.4 234.5 L796.2 235.8 L797.1 237.0 L797.9 238.3 L798.8 239.5 L799.6 240.8 L800.5 242.0 L801.4 243.2 L802.3 244.4 L803.2 245.6 L804.1 246.8 L805.0 248.0 L805.9 249.2 L806.9 250.4 L807.8 251.6 L808.8 252.8 L809.7 253.9 L810.7 255.1 L811.7 256.2 L812.7 257.3 L813.7 258.5 L814.8 259.6 L815.8 260.6 L816.8 261.7 L817.9 262.8 L819.0 263.8 L820.1 264.8 L821.2 265.9 L822.3 266.9 L823.4 267.8 L824.5 268.8 L825.7 269.7 L826.8 270.6 L828.0 271.5 L829.2 272.4 L830.4 273.3 L831.6 274.1 L832.8 274.9 L834.1 275.7 L835.3 276.4 L836.6 277.2 L837.9 277.9 L839.2 278.5 L840.5 279.2 L841.8 279.8 L843.1 280.4 L844.5 281.0 L845.9 281.5 L847.2 282.0 L848.6 282.5 L850.0 282.9 L851.5 283.3 L852.9 283.7 L854.4 284.0 L855.8 284.3 L857.3 284.6 L858.8 284.8 L860.4 285.0 L861.9 285.1 L863.5 285.4" stroke="#f00" stroke-width="5.8"/>
</g>
<g stroke="#333" stroke-width="2.6" stroke-linecap="round">
<path d="M656.6 39.1 H651.6"/>
<path d="M656.6 93.6 H647.1"/>
<path d="M656.6 147.8 H651.6"/>
<path d="M656.6 202.0 H647.1"/>
<path d="M656.6 256.4 H651.6"/>
</g>
<path d="M655.4 309.6 H865.2" stroke="#000" stroke-width="3"/>
<g stroke="#000" stroke-width="3" stroke-linecap="round">
<path d="M683.7 309.6 V314.1"/>
<path d="M728.7 309.6 V319.6"/>
<path d="M773.8 309.6 V314.1"/>
<path d="M818.9 309.6 V319.6"/>
<path d="M864.0 309.6 V314.1"/>
</g>
<g font-family="'Liberation Sans', Arial, sans-serif" fill="#000">
<text transform="translate(638.60 103.50) scale(0.97 1)" font-size="33.5" text-anchor="end">300</text>
<text transform="translate(638.60 211.90) scale(0.97 1)" font-size="33.5" text-anchor="end">150</text>
<text transform="translate(565.40 151.90) rotate(-90) scale(1.06 1)" font-size="33.5" text-anchor="middle">F (a.u)</text>
<text transform="translate(728.74 354.00) scale(0.97 1)" font-size="34.5" text-anchor="middle">350</text>
<text transform="translate(818.91 354.00) scale(0.97 1)" font-size="34.5" text-anchor="middle">400</text>
<text transform="translate(760.50 400.50)" font-size="35" text-anchor="middle">(nm)</text>
</g></g>
<g>
<rect x="1401.6" y="29.0" width="207.0" height="280.5" fill="#fff" stroke="#2b2b2b" stroke-width="2.5"/>
<clipPath id="ci1401"><rect x="1401.6" y="29.0" width="207.0" height="280.5"/></clipPath>
<g clip-path="url(#ci1401)" fill="none" stroke-linejoin="round" stroke-linecap="round">
<path d="M1401.5 275.0 L1401.8 273.6 L1402.4 272.1 L1402.9 270.7 L1403.5 269.2 L1404.0 267.8 L1404.5 266.4 L1405.0 264.9 L1405.5 263.5 L1406.0 262.0 L1406.5 260.6 L1406.9 259.2 L1407.4 257.8 L1407.8 256.3 L1408.3 254.9 L1408.7 253.5 L1409.2 252.1 L1409.6 250.6 L1410.1 249.2 L1410.5 247.8 L1410.9 246.4 L1411.4 245.0 L1411.8 243.6 L1412.2 242.2 L1412.6 240.8 L1413.1 239.4 L1413.5 238.0 L1413.9 236.6 L1414.4 235.2 L1414.8 233.8 L1415.3 232.4 L1415.7 231.0 L1416.2 229.6 L1416.6 228.2 L1417.1 226.8 L1417.6 225.5 L1418.1 224.1 L1418.6 222.7 L1419.1 221.3 L1419.6 219.9 L1420.1 218.6 L1420.6 217.2 L1421.2 215.8 L1421.7 214.5 L1422.3 213.1 L1422.9 211.7 L1423.5 210.4 L1424.1 209.0 L1424.7 207.6 L1425.4 206.3 L1426.0 204.9 L1426.7 203.6 L1427.4 202.2 L1428.1 200.9 L1428.8 199.5 L1429.6 198.2 L1430.4 196.8 L1431.1 195.5 L1432.0 194.1 L1432.8 192.8 L1433.6 191.5 L1434.5 190.1 L1435.4 188.8 L1436.3 187.4 L1437.3 186.1 L1438.2 184.7 L1439.2 183.4 L1440.2 182.0 L1441.2 180.7 L1442.3 179.4 L1443.4 178.2 L1444.5 177.0 L1445.6 175.9 L1446.7 174.9 L1447.9 174.1 L1449.1 173.4 L1450.3 172.9 L1451.6 172.6 L1452.8 172.4 L1454.1 172.3 L1455.4 172.3 L1456.7 172.5 L1458.0 172.8 L1459.3 173.1 L1460.6 173.6 L1461.9 174.1 L1463.2 174.7 L1464.4 175.3 L1465.7 176.0 L1466.9 176.7 L1468.2 177.5 L1469.4 178.2 L1470.6 179.1 L1471.7 179.9 L1472.9 180.8 L1474.0 181.6 L1475.2 182.6 L1476.3 183.5 L1477.4 184.4 L1478.4 185.4 L1479.5 186.4 L1480.6 187.5 L1481.6 188.5 L1482.6 189.6 L1483.6 190.6 L1484.6 191.7 L1485.6 192.8 L1486.6 194.0 L1487.5 195.1 L1488.5 196.3 L1489.4 197.4 L1490.4 198.6 L1491.3 199.8 L1492.2 201.0 L1493.1 202.3 L1494.0 203.5 L1494.9 204.7 L1495.8 206.0 L1496.6 207.2 L1497.5 208.5 L1498.4 209.7 L1499.2 211.0 L1500.1 212.3 L1501.0 213.5 L1501.8 214.8 L1502.7 216.1 L1503.5 217.3 L1504.4 218.6 L1505.2 219.9 L1506.1 221.2 L1506.9 222.4 L1507.8 223.7 L1508.6 225.0 L1509.5 226.2 L1510.4 227.5 L1511.2 228.7 L1512.1 230.0 L1513.0 231.2 L1513.9 232.4 L1514.8 233.6 L1515.7 234.8 L1516.6 236.0 L1517.5 237.2 L1518.4 238.4 L1519.3 239.5 L1520.3 240.7 L1521.2 241.8 L1522.2 243.0 L1523.1 244.1 L1524.1 245.2 L1525.0 246.3 L1526.0 247.5 L1527.0 248.6 L1528.0 249.7 L1529.0 250.7 L1530.0 251.8 L1531.0 252.9 L1532.0 254.0 L1533.0 255.0 L1534.1 256.1 L1535.1 257.1 L1536.1 258.1 L1537.2 259.2 L1538.2 260.2 L1539.3 261.2 L1540.4 262.2 L1541.5 263.2 L1542.5 264.2 L1543.6 265.2 L1544.7 266.2 L1545.8 267.2 L1547.0 268.1 L1548.1 269.1 L1549.2 270.0 L1550.3 271.0 L1551.5 271.9 L1552.6 272.9 L1553.8 273.8 L1555.0 274.7 L1556.2 275.7 L1557.3 276.6 L1558.5 277.5 L1559.7 278.4 L1560.9 279.3 L1562.1 280.2 L1563.4 281.1 L1564.6 282.0 L1565.8 282.9 L1567.1 283.7 L1568.3 284.6 L1569.6 285.4 L1570.9 286.3 L1572.2 287.1 L1573.4 287.9 L1574.7 288.7 L1576.0 289.5 L1577.4 290.2 L1578.7 290.9 L1580.0 291.7 L1581.3 292.3 L1582.7 293.0 L1584.0 293.6 L1585.4 294.2 L1586.8 294.8 L1588.1 295.3 L1589.5 295.8 L1590.9 296.3 L1592.3 296.8 L1593.7 297.2 L1595.2 297.5 L1596.6 297.8 L1598.0 298.1 L1599.5 298.4 L1600.9 298.6 L1602.4 298.7 L1603.9 298.8 L1605.4 298.9 L1606.8 298.9 L1608.5 299.4" stroke="#000" stroke-width="5.8"/>
<path d="M1401.5 238.5 L1401.8 237.1 L1402.1 235.6 L1402.4 234.1 L1402.7 232.6 L1403.0 231.1 L1403.3 229.5 L1403.5 228.0 L1403.8 226.5 L1404.1 225.0 L1404.4 223.6 L1404.7 222.1 L1405.0 220.6 L1405.3 219.1 L1405.6 217.6 L1405.9 216.1 L1406.2 214.7 L1406.5 213.2 L1406.8 211.7 L1407.1 210.3 L1407.4 208.8 L1407.7 207.4 L1408.0 205.9 L1408.3 204.5 L1408.6 203.0 L1408.9 201.6 L1409.2 200.1 L1409.5 198.7 L1409.8 197.2 L1410.1 195.8 L1410.4 194.3 L1410.7 192.9 L1411.0 191.5 L1411.3 190.0 L1411.6 188.6 L1411.9 187.2 L1412.3 185.7 L1412.6 184.3 L1412.9 182.9 L1413.2 181.5 L1413.6 180.0 L1413.9 178.6 L1414.2 177.2 L1414.6 175.8 L1414.9 174.3 L1415.3 172.9 L1415.6 171.5 L1416.0 170.1 L1416.3 168.6 L1416.7 167.2 L1417.0 165.8 L1417.4 164.4 L1417.8 162.9 L1418.1 161.5 L1418.5 160.1 L1418.9 158.6 L1419.3 157.2 L1419.7 155.8 L1420.1 154.3 L1420.5 152.9 L1420.9 151.5 L1421.3 150.0 L1421.7 148.6 L1422.1 147.2 L1422.6 145.7 L1423.0 144.3 L1423.4 142.8 L1423.9 141.4 L1424.3 139.9 L1424.8 138.5 L1425.2 137.0 L1425.7 135.5 L1426.2 134.1 L1426.6 132.6 L1427.1 131.1 L1427.6 129.7 L1428.1 128.2 L1428.6 126.7 L1429.1 125.2 L1429.6 123.8 L1430.2 122.3 L1430.7 120.8 L1431.2 119.3 L1431.8 117.8 L1432.3 116.3 L1432.9 114.8 L1433.5 113.4 L1434.1 111.9 L1434.8 110.5 L1435.4 109.1 L1436.1 107.7 L1436.8 106.3 L1437.6 105.0 L1438.3 103.7 L1439.1 102.5 L1440.0 101.2 L1440.8 100.0 L1441.7 98.9 L1442.7 97.8 L1443.6 96.8 L1444.7 95.8 L1445.7 94.8 L1446.9 93.9 L1448.0 93.1 L1449.2 92.4 L1450.4 91.8 L1451.6 91.4 L1452.9 91.1 L1454.1 91.0 L1455.3 91.0 L1456.6 91.2 L1457.8 91.5 L1458.9 92.0 L1460.1 92.5 L1461.2 93.2 L1462.2 93.9 L1463.3 94.7 L1464.3 95.6 L1465.2 96.5 L1466.2 97.6 L1467.1 98.7 L1468.0 99.8 L1468.8 101.0 L1469.7 102.3 L1470.5 103.5 L1471.3 104.9 L1472.1 106.2 L1472.9 107.6 L1473.6 109.0 L1474.4 110.4 L1475.1 111.9 L1475.8 113.3 L1476.5 114.7 L1477.2 116.2 L1477.9 117.6 L1478.6 119.0 L1479.3 120.5 L1480.0 121.9 L1480.7 123.3 L1481.3 124.7 L1482.0 126.1 L1482.6 127.5 L1483.3 128.9 L1483.9 130.3 L1484.6 131.7 L1485.2 133.1 L1485.8 134.5 L1486.5 135.9 L1487.1 137.3 L1487.7 138.7 L1488.3 140.0 L1489.0 141.4 L1489.6 142.8 L1490.2 144.1 L1490.8 145.5 L1491.4 146.9 L1492.0 148.2 L1492.6 149.6 L1493.2 150.9 L1493.8 152.3 L1494.4 153.6 L1495.0 155.0 L1495.6 156.3 L1496.2 157.7 L1496.8 159.0 L1497.4 160.3 L1498.0 161.7 L1498.6 163.0 L1499.2 164.4 L1499.8 165.7 L1500.4 167.0 L1501.0 168.3 L1501.7 169.7 L1502.3 171.0 L1502.9 172.3 L1503.5 173.6 L1504.1 175.0 L1504.8 176.3 L1505.4 177.6 L1506.0 178.9 L1506.7 180.2 L1507.3 181.6 L1508.0 182.9 L1508.6 184.2 L1509.3 185.5 L1509.9 186.8 L1510.6 188.1 L1511.3 189.4 L1511.9 190.8 L1512.6 192.1 L1513.3 193.4 L1514.0 194.7 L1514.7 196.0 L1515.4 197.3 L1516.1 198.6 L1516.8 199.9 L1517.5 201.2 L1518.2 202.5 L1519.0 203.8 L1519.7 205.0 L1520.4 206.3 L1521.2 207.6 L1521.9 208.9 L1522.7 210.2 L1523.4 211.5 L1524.2 212.7 L1525.0 214.0 L1525.7 215.3 L1526.5 216.5 L1527.3 217.8 L1528.1 219.1 L1528.9 220.3 L1529.7 221.6 L1530.5 222.8 L1531.4 224.1 L1532.2 225.3 L1533.0 226.6 L1533.9 227.8 L1534.7 229.0 L1535.6 230.3 L1536.4 231.5 L1537.3 232.7 L1538.2 233.9 L1539.1 235.1 L1540.0 236.4 L1540.9 237.6 L1541.8 238.8 L1542.7 240.0 L1543.6 241.2 L1544.5 242.3 L1545.5 243.5 L1546.4 244.7 L1547.4 245.9 L1548.3 247.1 L1549.3 248.2 L1550.3 249.4 L1551.3 250.5 L1552.3 251.7 L1553.3 252.8 L1554.3 254.0 L1555.3 255.1 L1556.3 256.2 L1557.3 257.4 L1558.4 258.5 L1559.4 259.6 L1560.5 260.7 L1561.6 261.8 L1562.6 262.9 L1563.7 263.9 L1564.8 265.0 L1565.9 266.0 L1567.0 267.1 L1568.2 268.1 L1569.3 269.1 L1570.4 270.1 L1571.6 271.1 L1572.8 272.0 L1573.9 272.9 L1575.1 273.9 L1576.3 274.8 L1577.5 275.6 L1578.7 276.5 L1579.9 277.3 L1581.1 278.1 L1582.4 278.9 L1583.6 279.7 L1584.9 280.4 L1586.2 281.1 L1587.4 281.8 L1588.7 282.4 L1590.0 283.0 L1591.3 283.6 L1592.7 284.2 L1594.0 284.7 L1595.3 285.2 L1596.7 285.7 L1598.1 286.1 L1599.4 286.5 L1600.8 286.8 L1602.2 287.2 L1603.6 287.4 L1605.0 287.7 L1606.5 287.9 L1608.5 288.4" stroke="#f00" stroke-width="5.8"/>
</g>
<g stroke="#333" stroke-width="2.6" stroke-linecap="round">
<path d="M1401.6 39.1 H1396.6"/>
<path d="M1401.6 93.6 H1392.1"/>
<path d="M1401.6 147.8 H1396.6"/>
<path d="M1401.6 202.0 H1392.1"/>
<path d="M1401.6 256.4 H1396.6"/>
</g>
<path d="M1400.4 309.5 H1609.8" stroke="#000" stroke-width="3"/>
<g stroke="#000" stroke-width="3" stroke-linecap="round">
<path d="M1428.6 309.5 V314.0"/>
<path d="M1473.6 309.5 V319.5"/>
<path d="M1518.6 309.5 V314.0"/>
<path d="M1563.6 309.5 V319.5"/>
<path d="M1608.6 309.5 V314.0"/>
</g>
<g font-family="'Liberation Sans', Arial, sans-serif" fill="#000">
<text transform="translate(1382.60 103.50) scale(0.97 1)" font-size="33.5" text-anchor="end">300</text>
<text transform="translate(1382.60 211.90) scale(0.97 1)" font-size="33.5" text-anchor="end">150</text>
<text transform="translate(1313.50 151.90) rotate(-90) scale(1.06 1)" font-size="33.5" text-anchor="middle">F (a.u)</text>
<text transform="translate(1472.10 354.00) scale(0.97 1)" font-size="34.5" text-anchor="middle">350</text>
<text transform="translate(1562.10 354.00) scale(0.97 1)" font-size="34.5" text-anchor="middle">400</text>
<text transform="translate(1504.90 400.50) scale(0.97 1)" font-size="35" text-anchor="middle">(nm)</text>
</g></g>
</svg></body></html>
